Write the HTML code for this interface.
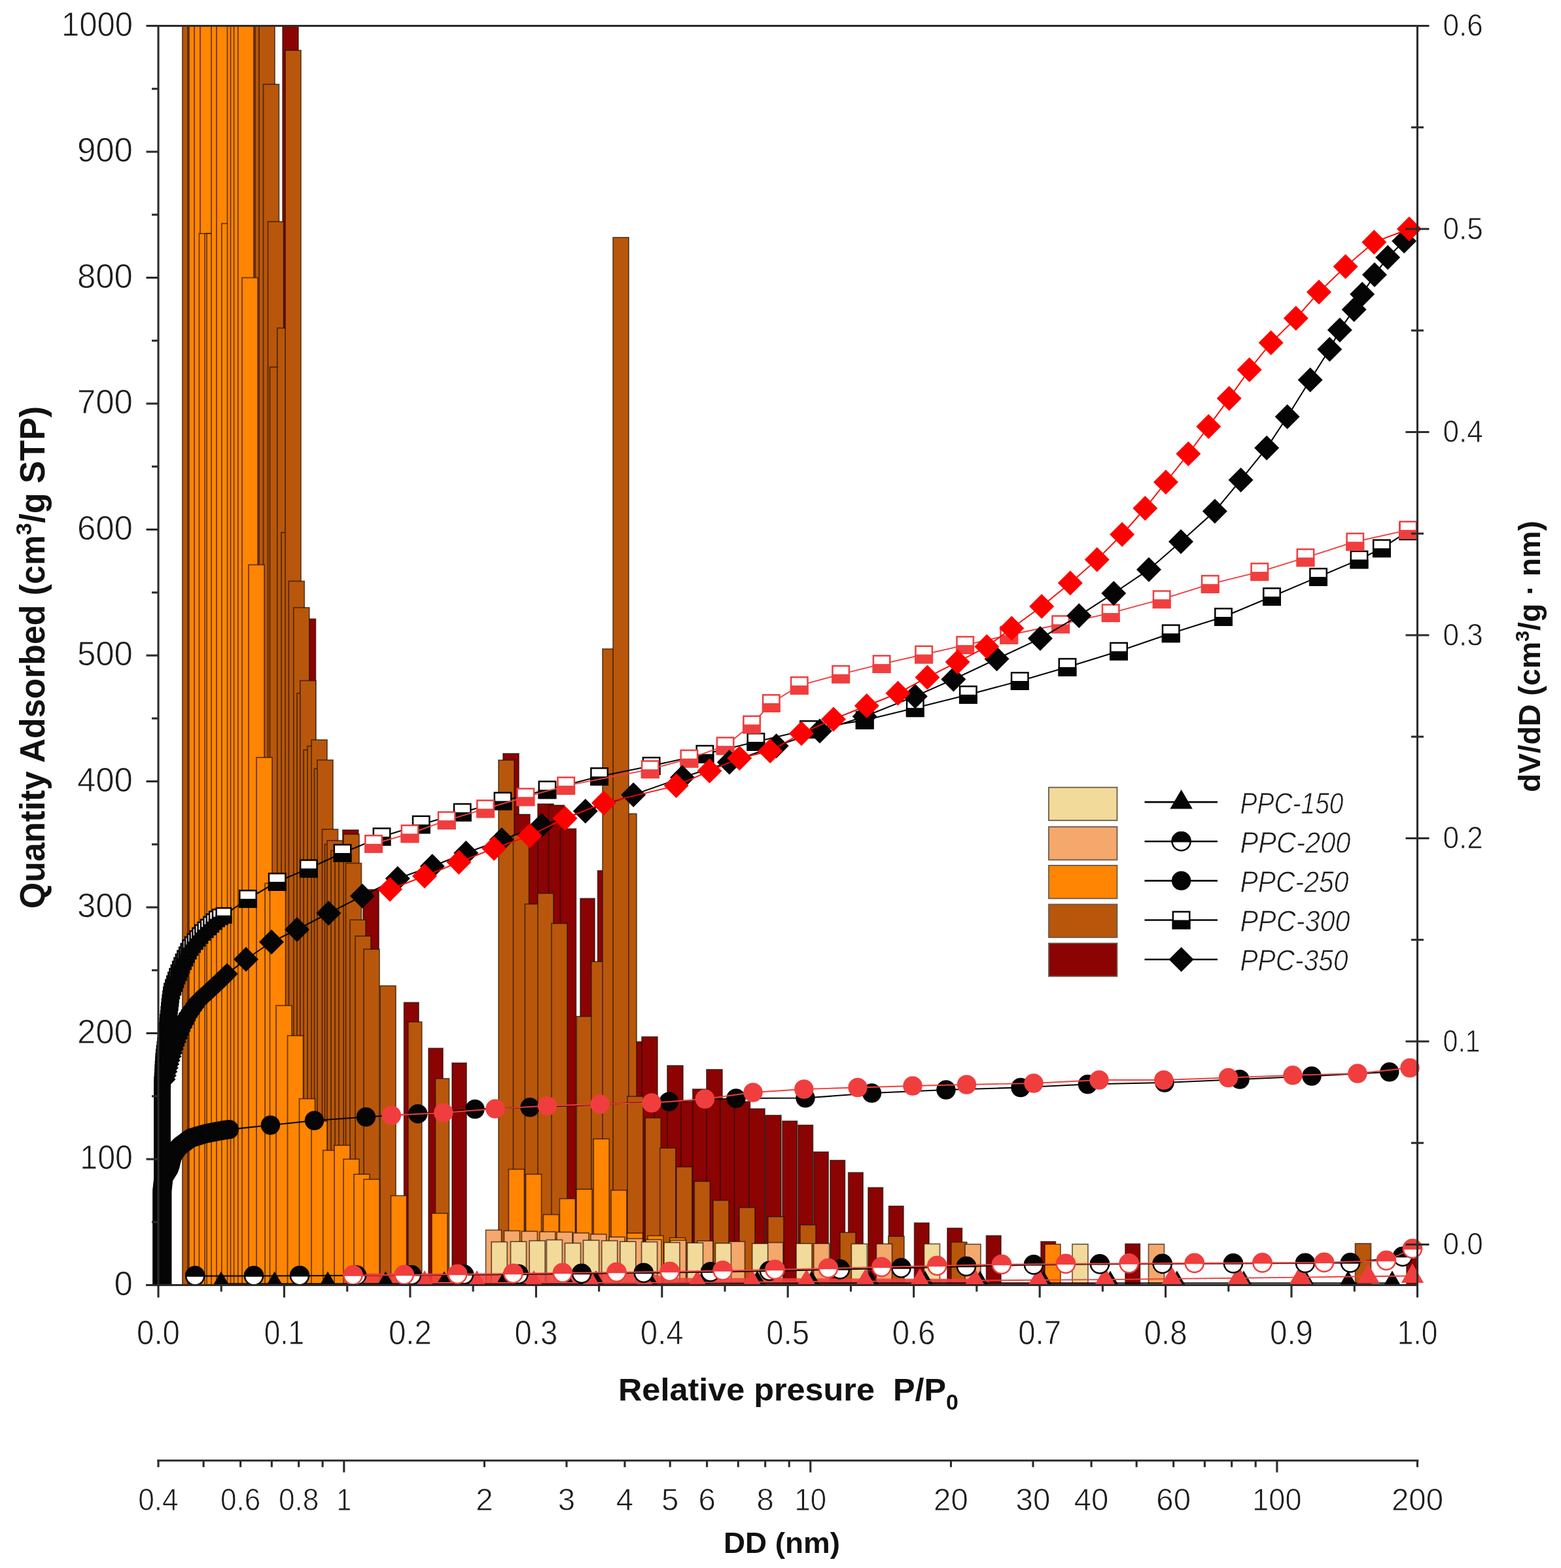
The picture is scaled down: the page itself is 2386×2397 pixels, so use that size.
<!DOCTYPE html>
<html lang="en"><head><meta charset="utf-8"><title>N2 sorption isotherms and pore size distribution</title><style>html,body{margin:0;padding:0;background:#fff}body{width:2386px;height:2397px;overflow:hidden}svg{display:block;filter:blur(0.55px)}</style></head><body>
<svg width="2386" height="2397" viewBox="0 0 2386 2397" style="display:block">
<rect width="2386" height="2397" fill="#fff"/>
<clipPath id="pc"><rect x="242.0" y="39.5" width="1924.5" height="1927.0"/></clipPath>
<g clip-path="url(#pc)">
<g fill="#8B0303" stroke="#1f0e00" stroke-width="1.7" stroke-opacity="0.66">
<rect x="432.0" y="39.5" width="24.0" height="1925.0"/>
<rect x="458.5" y="946.2" width="24.0" height="1018.3"/>
<rect x="523.8" y="1268.8" width="24.0" height="695.7"/>
<rect x="555.0" y="1360.0" width="24.0" height="604.5"/>
<rect x="617.5" y="1532.5" width="22.5" height="432.0"/>
<rect x="655.0" y="1602.5" width="22.0" height="362.0"/>
<rect x="691.0" y="1625.0" width="22.0" height="339.5"/>
<rect x="769.0" y="1152.0" width="24.0" height="812.5"/>
<rect x="786.0" y="1245.0" width="24.0" height="719.5"/>
<rect x="803.0" y="1278.0" width="24.0" height="686.5"/>
<rect x="822.0" y="1229.0" width="24.0" height="735.5"/>
<rect x="838.5" y="1231.0" width="24.0" height="733.5"/>
<rect x="856.5" y="1267.0" width="24.0" height="697.5"/>
<rect x="887.0" y="1373.5" width="22.0" height="591.0"/>
<rect x="913.5" y="1331.0" width="24.0" height="633.5"/>
<rect x="958.5" y="1592.5" width="24.0" height="372.0"/>
<rect x="981.0" y="1585.0" width="24.0" height="379.5"/>
<rect x="1000.0" y="1690.0" width="24.0" height="274.5"/>
<rect x="1020.0" y="1629.0" width="24.0" height="335.5"/>
<rect x="1041.0" y="1684.0" width="24.0" height="280.5"/>
<rect x="1058.8" y="1665.0" width="24.0" height="299.5"/>
<rect x="1080.0" y="1635.0" width="24.0" height="329.5"/>
<rect x="1101.0" y="1680.0" width="24.0" height="284.5"/>
<rect x="1122.5" y="1684.0" width="24.0" height="280.5"/>
<rect x="1145.0" y="1695.0" width="24.0" height="269.5"/>
<rect x="1170.0" y="1705.0" width="24.0" height="259.5"/>
<rect x="1196.0" y="1713.8" width="22.5" height="250.7"/>
<rect x="1220.0" y="1720.0" width="22.5" height="244.5"/>
<rect x="1243.7" y="1761.0" width="22.5" height="203.5"/>
<rect x="1269.0" y="1773.8" width="22.5" height="190.7"/>
<rect x="1296.7" y="1792.5" width="22.5" height="172.0"/>
<rect x="1327.0" y="1815.5" width="22.5" height="149.0"/>
<rect x="1358.5" y="1843.8" width="22.5" height="120.7"/>
<rect x="1397.6" y="1869.5" width="22.5" height="95.0"/>
<rect x="1448.0" y="1877.5" width="22.5" height="87.0"/>
<rect x="1507.5" y="1889.0" width="22.5" height="75.5"/>
<rect x="1591.0" y="1898.0" width="22.5" height="66.5"/>
<rect x="1720.0" y="1901.5" width="22.5" height="63.0"/>
<rect x="2150.0" y="1900.0" width="22.5" height="64.5"/>
</g>
<g fill="#B8570B" stroke="#1f0e00" stroke-width="1.7" stroke-opacity="0.66">
<rect x="278.8" y="39.5" width="24.0" height="1925.0"/>
<rect x="287.0" y="39.5" width="24.0" height="1925.0"/>
<rect x="296.0" y="39.5" width="24.0" height="1925.0"/>
<rect x="305.0" y="39.5" width="24.0" height="1925.0"/>
<rect x="314.0" y="39.5" width="24.0" height="1925.0"/>
<rect x="323.0" y="39.5" width="24.0" height="1925.0"/>
<rect x="332.0" y="39.5" width="24.0" height="1925.0"/>
<rect x="341.0" y="39.5" width="24.0" height="1925.0"/>
<rect x="350.0" y="39.5" width="24.0" height="1925.0"/>
<rect x="359.0" y="39.5" width="24.0" height="1925.0"/>
<rect x="368.0" y="39.5" width="24.0" height="1925.0"/>
<rect x="377.0" y="39.5" width="24.0" height="1925.0"/>
<rect x="384.0" y="39.5" width="24.0" height="1925.0"/>
<rect x="390.0" y="39.5" width="24.0" height="1925.0"/>
<rect x="396.0" y="39.5" width="24.0" height="1925.0"/>
<rect x="402.5" y="128.8" width="24.0" height="1835.7"/>
<rect x="409.5" y="338.8" width="24.0" height="1625.7"/>
<rect x="412.5" y="561.2" width="24.0" height="1403.3"/>
<rect x="423.8" y="501.5" width="24.0" height="1463.0"/>
<rect x="430.0" y="814.1" width="24.0" height="1150.4"/>
<rect x="436.0" y="77.0" width="24.0" height="1887.5"/>
<rect x="441.3" y="888.4" width="24.0" height="1076.1"/>
<rect x="448.8" y="928.8" width="24.0" height="1035.7"/>
<rect x="454.0" y="1059.8" width="24.0" height="904.8"/>
<rect x="458.8" y="1040.5" width="24.0" height="924.0"/>
<rect x="464.0" y="1146.4" width="24.0" height="818.1"/>
<rect x="470.0" y="1140.6" width="24.0" height="823.9"/>
<rect x="476.0" y="1131.0" width="24.0" height="833.5"/>
<rect x="480.5" y="1175.2" width="24.0" height="789.2"/>
<rect x="485.0" y="1161.8" width="24.0" height="802.7"/>
<rect x="492.5" y="1267.7" width="24.0" height="696.8"/>
<rect x="496.5" y="1290.8" width="24.0" height="673.8"/>
<rect x="500.0" y="1285.0" width="24.0" height="679.5"/>
<rect x="506.0" y="1300.4" width="24.0" height="664.1"/>
<rect x="512.0" y="1296.5" width="24.0" height="668.0"/>
<rect x="518.0" y="1290.8" width="24.0" height="673.8"/>
<rect x="525.0" y="1275.3" width="24.0" height="689.2"/>
<rect x="528.5" y="1319.6" width="24.0" height="644.9"/>
<rect x="535.0" y="1406.2" width="24.0" height="558.2"/>
<rect x="543.0" y="1431.0" width="24.0" height="533.5"/>
<rect x="556.0" y="1451.0" width="24.0" height="513.5"/>
<rect x="581.0" y="1507.0" width="24.0" height="457.5"/>
<rect x="623.8" y="1562.2" width="21.0" height="402.3"/>
<rect x="665.5" y="1648.8" width="21.0" height="315.7"/>
<rect x="762.0" y="1162.0" width="24.0" height="802.5"/>
<rect x="784.5" y="1276.0" width="24.0" height="688.5"/>
<rect x="802.4" y="1382.0" width="24.0" height="582.5"/>
<rect x="822.0" y="1365.7" width="24.0" height="598.8"/>
<rect x="843.0" y="1411.7" width="24.0" height="552.8"/>
<rect x="881.3" y="1553.8" width="24.0" height="410.7"/>
<rect x="903.8" y="1470.0" width="24.0" height="494.5"/>
<rect x="949.0" y="1244.0" width="24.0" height="720.5"/>
<rect x="921.0" y="992.0" width="24.0" height="972.5"/>
<rect x="937.0" y="363.0" width="24.0" height="1601.5"/>
<rect x="959.0" y="1676.0" width="24.0" height="288.5"/>
<rect x="986.3" y="1708.8" width="24.0" height="255.7"/>
<rect x="1008.8" y="1755.0" width="24.0" height="209.5"/>
<rect x="1033.8" y="1783.8" width="24.0" height="180.7"/>
<rect x="1061.3" y="1806.0" width="24.0" height="158.5"/>
<rect x="1090.0" y="1835.0" width="24.0" height="129.5"/>
<rect x="1130.0" y="1846.0" width="24.0" height="118.5"/>
<rect x="1173.8" y="1860.0" width="24.0" height="104.5"/>
<rect x="1223.0" y="1872.5" width="24.0" height="92.0"/>
<rect x="1284.0" y="1884.0" width="24.0" height="80.5"/>
<rect x="1358.0" y="1890.0" width="24.0" height="74.5"/>
<rect x="1453.8" y="1898.8" width="24.0" height="65.7"/>
<rect x="2071.5" y="1901.0" width="24.0" height="63.5"/>
</g>
<g fill="#FF8503" stroke="#1f0e00" stroke-width="1.7" stroke-opacity="0.66">
<rect x="289.0" y="39.5" width="24.0" height="1925.0"/>
<rect x="297.0" y="39.5" width="24.0" height="1925.0"/>
<rect x="306.0" y="39.5" width="24.0" height="1925.0"/>
<rect x="304.5" y="357.1" width="24.0" height="1607.4"/>
<rect x="313.0" y="357.1" width="24.0" height="1607.4"/>
<rect x="316.0" y="357.1" width="24.0" height="1607.4"/>
<rect x="323.0" y="39.5" width="24.0" height="1925.0"/>
<rect x="331.0" y="39.5" width="24.0" height="1925.0"/>
<rect x="338.8" y="341.7" width="24.0" height="1622.8"/>
<rect x="347.5" y="39.5" width="24.0" height="1925.0"/>
<rect x="352.5" y="39.5" width="24.0" height="1925.0"/>
<rect x="357.5" y="39.5" width="24.0" height="1925.0"/>
<rect x="363.8" y="39.5" width="24.0" height="1925.0"/>
<rect x="370.0" y="424.5" width="24.0" height="1540.0"/>
<rect x="380.0" y="863.4" width="24.0" height="1101.1"/>
<rect x="392.0" y="1157.9" width="24.0" height="806.6"/>
<rect x="405.0" y="1350.4" width="24.0" height="614.1"/>
<rect x="412.5" y="1350.4" width="24.0" height="614.1"/>
<rect x="422.0" y="1537.2" width="24.0" height="427.3"/>
<rect x="439.5" y="1583.3" width="24.0" height="381.2"/>
<rect x="457.5" y="1679.6" width="24.0" height="284.9"/>
<rect x="476.0" y="1714.0" width="24.0" height="250.5"/>
<rect x="493.8" y="1758.5" width="24.0" height="206.0"/>
<rect x="511.0" y="1750.8" width="24.0" height="213.7"/>
<rect x="525.0" y="1772.0" width="24.0" height="192.5"/>
<rect x="541.0" y="1795.1" width="24.0" height="169.4"/>
<rect x="556.0" y="1802.8" width="24.0" height="161.7"/>
<rect x="597.5" y="1827.8" width="24.0" height="136.7"/>
<rect x="660.0" y="1854.8" width="24.0" height="109.7"/>
<rect x="777.4" y="1787.5" width="24.0" height="177.0"/>
<rect x="803.6" y="1795.0" width="24.0" height="169.5"/>
<rect x="830.4" y="1856.7" width="24.0" height="107.8"/>
<rect x="855.4" y="1832.4" width="24.0" height="132.1"/>
<rect x="881.0" y="1818.0" width="24.0" height="146.5"/>
<rect x="907.2" y="1741.0" width="24.0" height="223.5"/>
<rect x="934.0" y="1819.5" width="24.0" height="145.0"/>
<rect x="958.5" y="1885.0" width="24.0" height="79.5"/>
<rect x="990.0" y="1889.0" width="24.0" height="75.5"/>
<rect x="1023.6" y="1892.3" width="24.0" height="72.2"/>
<rect x="1597.0" y="1902.0" width="24.0" height="62.5"/>
</g>
<g fill="#F4A86C" stroke="#1f0e00" stroke-width="1.7" stroke-opacity="0.66">
<rect x="742.5" y="1880.4" width="24.0" height="84.1"/>
<rect x="770.5" y="1881.5" width="24.0" height="83.0"/>
<rect x="797.4" y="1882.3" width="24.0" height="82.2"/>
<rect x="824.8" y="1883.0" width="24.0" height="81.5"/>
<rect x="851.0" y="1883.5" width="24.0" height="81.0"/>
<rect x="876.0" y="1884.8" width="24.0" height="79.7"/>
<rect x="902.8" y="1886.7" width="24.0" height="77.8"/>
<rect x="931.0" y="1891.0" width="24.0" height="73.5"/>
<rect x="958.5" y="1893.5" width="24.0" height="71.0"/>
<rect x="987.0" y="1895.0" width="24.0" height="69.5"/>
<rect x="1024.6" y="1896.0" width="24.0" height="68.5"/>
<rect x="1065.8" y="1897.0" width="24.0" height="67.5"/>
<rect x="1114.5" y="1898.0" width="24.0" height="66.5"/>
<rect x="1173.0" y="1899.5" width="24.0" height="65.0"/>
<rect x="1243.7" y="1901.0" width="24.0" height="63.5"/>
<rect x="1339.5" y="1901.5" width="24.0" height="63.0"/>
<rect x="1475.0" y="1902.0" width="24.0" height="62.5"/>
<rect x="1755.5" y="1902.0" width="24.0" height="62.5"/>
</g>
<g fill="#F2DA9A" stroke="#1f0e00" stroke-width="1.7" stroke-opacity="0.66">
<rect x="751.2" y="1898.5" width="24.0" height="66.0"/>
<rect x="780.5" y="1898.0" width="24.0" height="66.5"/>
<rect x="809.2" y="1896.7" width="24.0" height="67.8"/>
<rect x="835.4" y="1895.4" width="24.0" height="69.1"/>
<rect x="863.5" y="1900.4" width="24.0" height="64.1"/>
<rect x="891.6" y="1896.0" width="24.0" height="68.5"/>
<rect x="919.7" y="1896.7" width="24.0" height="67.8"/>
<rect x="947.8" y="1898.0" width="24.0" height="66.5"/>
<rect x="980.6" y="1898.5" width="24.0" height="66.0"/>
<rect x="1015.0" y="1899.5" width="24.0" height="65.0"/>
<rect x="1050.5" y="1900.0" width="24.0" height="64.5"/>
<rect x="1093.5" y="1900.5" width="24.0" height="64.0"/>
<rect x="1149.7" y="1901.0" width="24.0" height="63.5"/>
<rect x="1217.0" y="1901.0" width="24.0" height="63.5"/>
<rect x="1301.4" y="1901.5" width="24.0" height="63.0"/>
<rect x="1412.5" y="1901.5" width="24.0" height="63.0"/>
<rect x="1639.0" y="1902.0" width="24.0" height="62.5"/>
</g>
</g>
<clipPath id="cc"><rect x="0" y="0" width="2386" height="1965.0"/></clipPath>
<g clip-path="url(#cc)">
<path d="M526 1965V1950L534 1946.5L1000 1947.5L1015 1953.5L1500 1955L1515 1960.5L1700 1961V1965Z" fill="#F03E3E" fill-opacity="0.88"/>
<path d="M338.0 1962.5L419.7 1962.5L501.0 1962.5L589.4 1962.5L679.0 1962.5L770.0 1962.5L866.0 1962.5L911.0 1961.5L993.0 1961.5L1074.0 1961.5L1157.5 1961.5L1240.7 1961.5L1330.6 1961.5L1414.0 1961.5L1498.0 1961.5L1595.0 1961.5L1697.0 1961.5L1799.0 1961.5L1901.0 1961.5L1996.0 1961.5L2060.6 1961.5L2128.0 1961.5" fill="none" stroke="#050505" stroke-width="2.1" stroke-linejoin="round"/>
<path d="M320.8 1973.0L338.0 1943.5L355.2 1973.0Z" fill="#050505"/>
<path d="M402.5 1973.0L419.7 1943.5L436.9 1973.0Z" fill="#050505"/>
<path d="M483.8 1973.0L501.0 1943.5L518.2 1973.0Z" fill="#050505"/>
<path d="M572.2 1973.0L589.4 1943.5L606.6 1973.0Z" fill="#050505"/>
<path d="M661.8 1973.0L679.0 1943.5L696.2 1973.0Z" fill="#050505"/>
<path d="M752.8 1973.0L770.0 1943.5L787.2 1973.0Z" fill="#050505"/>
<path d="M848.8 1973.0L866.0 1943.5L883.2 1973.0Z" fill="#050505"/>
<path d="M893.8 1972.0L911.0 1942.5L928.2 1972.0Z" fill="#050505"/>
<path d="M975.8 1972.0L993.0 1942.5L1010.2 1972.0Z" fill="#050505"/>
<path d="M1056.8 1972.0L1074.0 1942.5L1091.2 1972.0Z" fill="#050505"/>
<path d="M1140.3 1972.0L1157.5 1942.5L1174.7 1972.0Z" fill="#050505"/>
<path d="M1223.5 1972.0L1240.7 1942.5L1257.9 1972.0Z" fill="#050505"/>
<path d="M1313.4 1972.0L1330.6 1942.5L1347.8 1972.0Z" fill="#050505"/>
<path d="M1396.8 1972.0L1414.0 1942.5L1431.2 1972.0Z" fill="#050505"/>
<path d="M1480.8 1972.0L1498.0 1942.5L1515.2 1972.0Z" fill="#050505"/>
<path d="M1577.8 1972.0L1595.0 1942.5L1612.2 1972.0Z" fill="#050505"/>
<path d="M1679.8 1972.0L1697.0 1942.5L1714.2 1972.0Z" fill="#050505"/>
<path d="M1781.8 1972.0L1799.0 1942.5L1816.2 1972.0Z" fill="#050505"/>
<path d="M1883.8 1972.0L1901.0 1942.5L1918.2 1972.0Z" fill="#050505"/>
<path d="M1978.8 1972.0L1996.0 1942.5L2013.2 1972.0Z" fill="#050505"/>
<path d="M2043.4 1972.0L2060.6 1942.5L2077.8 1972.0Z" fill="#050505"/>
<path d="M2110.8 1972.0L2128.0 1942.5L2145.2 1972.0Z" fill="#050505"/>
<path d="M2159.0 1950.5L2091.5 1951.3L1988.0 1952.6L1893.0 1953.7L1791.0 1954.9L1689.0 1956.1L1587.0 1956.8L1490.0 1957.5L1406.0 1958.1L1322.6 1958.7L1232.7 1959.3L1149.5 1959.9L1066.0 1960.5L985.0 1961.0L903.0 1961.0L816.0 1961.0L729.0 1961.0L649.0 1961.0" fill="none" stroke="#F03E3E" stroke-width="1.9" stroke-linejoin="round"/>
<path d="M2141.8 1961.0L2159.0 1931.5L2176.2 1961.0Z" fill="#F03E3E"/>
<path d="M2074.3 1961.8L2091.5 1932.3L2108.7 1961.8Z" fill="#F03E3E"/>
<path d="M1970.8 1963.1L1988.0 1933.6L2005.2 1963.1Z" fill="#F03E3E"/>
<path d="M1875.8 1964.2L1893.0 1934.7L1910.2 1964.2Z" fill="#F03E3E"/>
<path d="M1773.8 1965.4L1791.0 1935.9L1808.2 1965.4Z" fill="#F03E3E"/>
<path d="M1671.8 1966.6L1689.0 1937.1L1706.2 1966.6Z" fill="#F03E3E"/>
<path d="M1569.8 1967.3L1587.0 1937.8L1604.2 1967.3Z" fill="#F03E3E"/>
<path d="M1472.8 1968.0L1490.0 1938.5L1507.2 1968.0Z" fill="#F03E3E"/>
<path d="M1388.8 1968.6L1406.0 1939.1L1423.2 1968.6Z" fill="#F03E3E"/>
<path d="M1305.4 1969.2L1322.6 1939.7L1339.8 1969.2Z" fill="#F03E3E"/>
<path d="M1215.5 1969.8L1232.7 1940.3L1249.9 1969.8Z" fill="#F03E3E"/>
<path d="M1132.3 1970.4L1149.5 1940.9L1166.7 1970.4Z" fill="#F03E3E"/>
<path d="M1048.8 1971.0L1066.0 1941.5L1083.2 1971.0Z" fill="#F03E3E"/>
<path d="M967.8 1971.5L985.0 1942.0L1002.2 1971.5Z" fill="#F03E3E"/>
<path d="M885.8 1971.5L903.0 1942.0L920.2 1971.5Z" fill="#F03E3E"/>
<path d="M798.8 1971.5L816.0 1942.0L833.2 1971.5Z" fill="#F03E3E"/>
<path d="M711.8 1971.5L729.0 1942.0L746.2 1971.5Z" fill="#F03E3E"/>
<path d="M631.8 1971.5L649.0 1942.0L666.2 1971.5Z" fill="#F03E3E"/>
<path d="M298.2 1950.6L388.0 1950.5L458.0 1950.2L545.0 1949.8L629.0 1949.3L709.0 1948.6L792.5 1948.0L889.0 1947.0L983.8 1946.0L1086.0 1944.5L1176.0 1943.0L1284.0 1940.5L1377.5 1938.5L1477.0 1936.0L1580.0 1933.5L1681.0 1932.5L1776.7 1932.0L1885.0 1931.5L1995.0 1931.0L2064.0 1930.5L2144.0 1921.0" fill="none" stroke="#050505" stroke-width="2.1" stroke-linejoin="round"/>
<circle cx="298.2" cy="1950.6" r="14" fill="#fff" stroke="#050505" stroke-width="2.5"/><path d="M284.2 1950.6A14 14 0 0 1 312.2 1950.6Z" fill="#050505" stroke="#050505" stroke-width="2.5"/>
<circle cx="388.0" cy="1950.5" r="14" fill="#fff" stroke="#050505" stroke-width="2.5"/><path d="M374.0 1950.5A14 14 0 0 1 402.0 1950.5Z" fill="#050505" stroke="#050505" stroke-width="2.5"/>
<circle cx="458.0" cy="1950.2" r="14" fill="#fff" stroke="#050505" stroke-width="2.5"/><path d="M444.0 1950.2A14 14 0 0 1 472.0 1950.2Z" fill="#050505" stroke="#050505" stroke-width="2.5"/>
<circle cx="545.0" cy="1949.8" r="14" fill="#fff" stroke="#050505" stroke-width="2.5"/><path d="M531.0 1949.8A14 14 0 0 1 559.0 1949.8Z" fill="#050505" stroke="#050505" stroke-width="2.5"/>
<circle cx="629.0" cy="1949.3" r="14" fill="#fff" stroke="#050505" stroke-width="2.5"/><path d="M615.0 1949.3A14 14 0 0 1 643.0 1949.3Z" fill="#050505" stroke="#050505" stroke-width="2.5"/>
<circle cx="709.0" cy="1948.6" r="14" fill="#fff" stroke="#050505" stroke-width="2.5"/><path d="M695.0 1948.6A14 14 0 0 1 723.0 1948.6Z" fill="#050505" stroke="#050505" stroke-width="2.5"/>
<circle cx="792.5" cy="1948.0" r="14" fill="#fff" stroke="#050505" stroke-width="2.5"/><path d="M778.5 1948.0A14 14 0 0 1 806.5 1948.0Z" fill="#050505" stroke="#050505" stroke-width="2.5"/>
<circle cx="889.0" cy="1947.0" r="14" fill="#fff" stroke="#050505" stroke-width="2.5"/><path d="M875.0 1947.0A14 14 0 0 1 903.0 1947.0Z" fill="#050505" stroke="#050505" stroke-width="2.5"/>
<circle cx="983.8" cy="1946.0" r="14" fill="#fff" stroke="#050505" stroke-width="2.5"/><path d="M969.8 1946.0A14 14 0 0 1 997.8 1946.0Z" fill="#050505" stroke="#050505" stroke-width="2.5"/>
<circle cx="1086.0" cy="1944.5" r="14" fill="#fff" stroke="#050505" stroke-width="2.5"/><path d="M1072.0 1944.5A14 14 0 0 1 1100.0 1944.5Z" fill="#050505" stroke="#050505" stroke-width="2.5"/>
<circle cx="1176.0" cy="1943.0" r="14" fill="#fff" stroke="#050505" stroke-width="2.5"/><path d="M1162.0 1943.0A14 14 0 0 1 1190.0 1943.0Z" fill="#050505" stroke="#050505" stroke-width="2.5"/>
<circle cx="1284.0" cy="1940.5" r="14" fill="#fff" stroke="#050505" stroke-width="2.5"/><path d="M1270.0 1940.5A14 14 0 0 1 1298.0 1940.5Z" fill="#050505" stroke="#050505" stroke-width="2.5"/>
<circle cx="1377.5" cy="1938.5" r="14" fill="#fff" stroke="#050505" stroke-width="2.5"/><path d="M1363.5 1938.5A14 14 0 0 1 1391.5 1938.5Z" fill="#050505" stroke="#050505" stroke-width="2.5"/>
<circle cx="1477.0" cy="1936.0" r="14" fill="#fff" stroke="#050505" stroke-width="2.5"/><path d="M1463.0 1936.0A14 14 0 0 1 1491.0 1936.0Z" fill="#050505" stroke="#050505" stroke-width="2.5"/>
<circle cx="1580.0" cy="1933.5" r="14" fill="#fff" stroke="#050505" stroke-width="2.5"/><path d="M1566.0 1933.5A14 14 0 0 1 1594.0 1933.5Z" fill="#050505" stroke="#050505" stroke-width="2.5"/>
<circle cx="1681.0" cy="1932.5" r="14" fill="#fff" stroke="#050505" stroke-width="2.5"/><path d="M1667.0 1932.5A14 14 0 0 1 1695.0 1932.5Z" fill="#050505" stroke="#050505" stroke-width="2.5"/>
<circle cx="1776.7" cy="1932.0" r="14" fill="#fff" stroke="#050505" stroke-width="2.5"/><path d="M1762.7 1932.0A14 14 0 0 1 1790.7 1932.0Z" fill="#050505" stroke="#050505" stroke-width="2.5"/>
<circle cx="1885.0" cy="1931.5" r="14" fill="#fff" stroke="#050505" stroke-width="2.5"/><path d="M1871.0 1931.5A14 14 0 0 1 1899.0 1931.5Z" fill="#050505" stroke="#050505" stroke-width="2.5"/>
<circle cx="1995.0" cy="1931.0" r="14" fill="#fff" stroke="#050505" stroke-width="2.5"/><path d="M1981.0 1931.0A14 14 0 0 1 2009.0 1931.0Z" fill="#050505" stroke="#050505" stroke-width="2.5"/>
<circle cx="2064.0" cy="1930.5" r="14" fill="#fff" stroke="#050505" stroke-width="2.5"/><path d="M2050.0 1930.5A14 14 0 0 1 2078.0 1930.5Z" fill="#050505" stroke="#050505" stroke-width="2.5"/>
<circle cx="2144.0" cy="1921.0" r="14" fill="#fff" stroke="#050505" stroke-width="2.5"/><path d="M2130.0 1921.0A14 14 0 0 1 2158.0 1921.0Z" fill="#050505" stroke="#050505" stroke-width="2.5"/>
<path d="M2159.0 1909.0L2119.0 1927.0L2024.0 1930.0L1929.5 1930.5L1825.8 1931.0L1725.7 1931.5L1629.0 1932.0L1531.0 1933.0L1432.4 1935.0L1347.6 1937.0L1266.0 1939.0L1184.5 1941.0L1104.6 1942.5L1023.7 1944.0L942.5 1945.0L860.0 1946.0L784.5 1947.0L699.3 1948.0L617.7 1949.0L539.5 1949.5" fill="none" stroke="#F03E3E" stroke-width="1.9" stroke-linejoin="round"/>
<circle cx="2159.0" cy="1909.0" r="14" fill="#fff" stroke="#F03E3E" stroke-width="2.5"/><path d="M2145.0 1909.0A14 14 0 0 1 2173.0 1909.0Z" fill="#F03E3E" stroke="#F03E3E" stroke-width="2.5"/>
<circle cx="2119.0" cy="1927.0" r="14" fill="#fff" stroke="#F03E3E" stroke-width="2.5"/><path d="M2105.0 1927.0A14 14 0 0 1 2133.0 1927.0Z" fill="#F03E3E" stroke="#F03E3E" stroke-width="2.5"/>
<circle cx="2024.0" cy="1930.0" r="14" fill="#fff" stroke="#F03E3E" stroke-width="2.5"/><path d="M2010.0 1930.0A14 14 0 0 1 2038.0 1930.0Z" fill="#F03E3E" stroke="#F03E3E" stroke-width="2.5"/>
<circle cx="1929.5" cy="1930.5" r="14" fill="#fff" stroke="#F03E3E" stroke-width="2.5"/><path d="M1915.5 1930.5A14 14 0 0 1 1943.5 1930.5Z" fill="#F03E3E" stroke="#F03E3E" stroke-width="2.5"/>
<circle cx="1825.8" cy="1931.0" r="14" fill="#fff" stroke="#F03E3E" stroke-width="2.5"/><path d="M1811.8 1931.0A14 14 0 0 1 1839.8 1931.0Z" fill="#F03E3E" stroke="#F03E3E" stroke-width="2.5"/>
<circle cx="1725.7" cy="1931.5" r="14" fill="#fff" stroke="#F03E3E" stroke-width="2.5"/><path d="M1711.7 1931.5A14 14 0 0 1 1739.7 1931.5Z" fill="#F03E3E" stroke="#F03E3E" stroke-width="2.5"/>
<circle cx="1629.0" cy="1932.0" r="14" fill="#fff" stroke="#F03E3E" stroke-width="2.5"/><path d="M1615.0 1932.0A14 14 0 0 1 1643.0 1932.0Z" fill="#F03E3E" stroke="#F03E3E" stroke-width="2.5"/>
<circle cx="1531.0" cy="1933.0" r="14" fill="#fff" stroke="#F03E3E" stroke-width="2.5"/><path d="M1517.0 1933.0A14 14 0 0 1 1545.0 1933.0Z" fill="#F03E3E" stroke="#F03E3E" stroke-width="2.5"/>
<circle cx="1432.4" cy="1935.0" r="14" fill="#fff" stroke="#F03E3E" stroke-width="2.5"/><path d="M1418.4 1935.0A14 14 0 0 1 1446.4 1935.0Z" fill="#F03E3E" stroke="#F03E3E" stroke-width="2.5"/>
<circle cx="1347.6" cy="1937.0" r="14" fill="#fff" stroke="#F03E3E" stroke-width="2.5"/><path d="M1333.6 1937.0A14 14 0 0 1 1361.6 1937.0Z" fill="#F03E3E" stroke="#F03E3E" stroke-width="2.5"/>
<circle cx="1266.0" cy="1939.0" r="14" fill="#fff" stroke="#F03E3E" stroke-width="2.5"/><path d="M1252.0 1939.0A14 14 0 0 1 1280.0 1939.0Z" fill="#F03E3E" stroke="#F03E3E" stroke-width="2.5"/>
<circle cx="1184.5" cy="1941.0" r="14" fill="#fff" stroke="#F03E3E" stroke-width="2.5"/><path d="M1170.5 1941.0A14 14 0 0 1 1198.5 1941.0Z" fill="#F03E3E" stroke="#F03E3E" stroke-width="2.5"/>
<circle cx="1104.6" cy="1942.5" r="14" fill="#fff" stroke="#F03E3E" stroke-width="2.5"/><path d="M1090.6 1942.5A14 14 0 0 1 1118.6 1942.5Z" fill="#F03E3E" stroke="#F03E3E" stroke-width="2.5"/>
<circle cx="1023.7" cy="1944.0" r="14" fill="#fff" stroke="#F03E3E" stroke-width="2.5"/><path d="M1009.7 1944.0A14 14 0 0 1 1037.7 1944.0Z" fill="#F03E3E" stroke="#F03E3E" stroke-width="2.5"/>
<circle cx="942.5" cy="1945.0" r="14" fill="#fff" stroke="#F03E3E" stroke-width="2.5"/><path d="M928.5 1945.0A14 14 0 0 1 956.5 1945.0Z" fill="#F03E3E" stroke="#F03E3E" stroke-width="2.5"/>
<circle cx="860.0" cy="1946.0" r="14" fill="#fff" stroke="#F03E3E" stroke-width="2.5"/><path d="M846.0 1946.0A14 14 0 0 1 874.0 1946.0Z" fill="#F03E3E" stroke="#F03E3E" stroke-width="2.5"/>
<circle cx="784.5" cy="1947.0" r="14" fill="#fff" stroke="#F03E3E" stroke-width="2.5"/><path d="M770.5 1947.0A14 14 0 0 1 798.5 1947.0Z" fill="#F03E3E" stroke="#F03E3E" stroke-width="2.5"/>
<circle cx="699.3" cy="1948.0" r="14" fill="#fff" stroke="#F03E3E" stroke-width="2.5"/><path d="M685.3 1948.0A14 14 0 0 1 713.3 1948.0Z" fill="#F03E3E" stroke="#F03E3E" stroke-width="2.5"/>
<circle cx="617.7" cy="1949.0" r="14" fill="#fff" stroke="#F03E3E" stroke-width="2.5"/><path d="M603.7 1949.0A14 14 0 0 1 631.7 1949.0Z" fill="#F03E3E" stroke="#F03E3E" stroke-width="2.5"/>
<circle cx="539.5" cy="1949.5" r="14" fill="#fff" stroke="#F03E3E" stroke-width="2.5"/><path d="M525.5 1949.5A14 14 0 0 1 553.5 1949.5Z" fill="#F03E3E" stroke="#F03E3E" stroke-width="2.5"/>
<path d="M247.8 1964.0L247.8 1959.0L247.8 1954.0L247.8 1949.0L247.8 1944.0L247.8 1939.0L247.8 1934.0L247.8 1929.0L247.8 1924.0L247.8 1919.0L247.8 1914.0L247.8 1909.0L247.8 1904.0L247.8 1899.0L247.8 1894.0L247.8 1889.0L247.8 1884.0L247.8 1879.0L247.8 1874.0L247.8 1869.0L247.8 1864.0L247.8 1859.0L247.8 1854.0L247.8 1849.0L247.8 1844.0L247.8 1839.0L247.8 1834.0L247.8 1829.0L247.8 1824.0L247.9 1819.0L248.5 1814.0L249.0 1809.1L249.5 1804.1L250.5 1799.3L253.1 1795.0L255.7 1790.8L258.4 1786.5L260.0 1781.8L261.2 1777.0L262.5 1772.1L263.7 1767.3L266.5 1763.1L269.3 1759.0L272.1 1754.9L275.7 1751.5L279.7 1748.5L283.7 1745.5L287.7 1742.5L291.8 1739.7L296.6 1738.3L301.4 1736.8L306.2 1735.4L311.0 1733.9L315.8 1732.7L320.7 1731.7L325.6 1730.8L330.5 1729.8L335.5 1728.9L340.4 1728.0L345.3 1727.3L350.3 1726.6L413.4 1720.0L480.5 1713.0L559.4 1707.5L638.8 1702.7L726.0 1695.5L810.0 1692.8L1022.5 1684.0L1125.0 1679.0L1231.0 1678.5L1332.5 1671.0L1446.0 1666.0L1560.0 1662.5L1662.5 1657.5L1780.0 1655.0L1895.0 1650.0L2005.0 1645.0L2123.8 1638.8" fill="none" stroke="#050505" stroke-width="2.1" stroke-linejoin="round"/>
<circle cx="247.8" cy="1964.0" r="14.7" fill="#050505"/>
<circle cx="247.8" cy="1959.0" r="14.7" fill="#050505"/>
<circle cx="247.8" cy="1954.0" r="14.7" fill="#050505"/>
<circle cx="247.8" cy="1949.0" r="14.7" fill="#050505"/>
<circle cx="247.8" cy="1944.0" r="14.7" fill="#050505"/>
<circle cx="247.8" cy="1939.0" r="14.7" fill="#050505"/>
<circle cx="247.8" cy="1934.0" r="14.7" fill="#050505"/>
<circle cx="247.8" cy="1929.0" r="14.7" fill="#050505"/>
<circle cx="247.8" cy="1924.0" r="14.7" fill="#050505"/>
<circle cx="247.8" cy="1919.0" r="14.7" fill="#050505"/>
<circle cx="247.8" cy="1914.0" r="14.7" fill="#050505"/>
<circle cx="247.8" cy="1909.0" r="14.7" fill="#050505"/>
<circle cx="247.8" cy="1904.0" r="14.7" fill="#050505"/>
<circle cx="247.8" cy="1899.0" r="14.7" fill="#050505"/>
<circle cx="247.8" cy="1894.0" r="14.7" fill="#050505"/>
<circle cx="247.8" cy="1889.0" r="14.7" fill="#050505"/>
<circle cx="247.8" cy="1884.0" r="14.7" fill="#050505"/>
<circle cx="247.8" cy="1879.0" r="14.7" fill="#050505"/>
<circle cx="247.8" cy="1874.0" r="14.7" fill="#050505"/>
<circle cx="247.8" cy="1869.0" r="14.7" fill="#050505"/>
<circle cx="247.8" cy="1864.0" r="14.7" fill="#050505"/>
<circle cx="247.8" cy="1859.0" r="14.7" fill="#050505"/>
<circle cx="247.8" cy="1854.0" r="14.7" fill="#050505"/>
<circle cx="247.8" cy="1849.0" r="14.7" fill="#050505"/>
<circle cx="247.8" cy="1844.0" r="14.7" fill="#050505"/>
<circle cx="247.8" cy="1839.0" r="14.7" fill="#050505"/>
<circle cx="247.8" cy="1834.0" r="14.7" fill="#050505"/>
<circle cx="247.8" cy="1829.0" r="14.7" fill="#050505"/>
<circle cx="247.8" cy="1824.0" r="14.7" fill="#050505"/>
<circle cx="247.9" cy="1819.0" r="14.7" fill="#050505"/>
<circle cx="248.5" cy="1814.0" r="14.7" fill="#050505"/>
<circle cx="249.0" cy="1809.1" r="14.7" fill="#050505"/>
<circle cx="249.5" cy="1804.1" r="14.7" fill="#050505"/>
<circle cx="250.5" cy="1799.3" r="14.7" fill="#050505"/>
<circle cx="253.1" cy="1795.0" r="14.7" fill="#050505"/>
<circle cx="255.7" cy="1790.8" r="14.7" fill="#050505"/>
<circle cx="258.4" cy="1786.5" r="14.7" fill="#050505"/>
<circle cx="260.0" cy="1781.8" r="14.7" fill="#050505"/>
<circle cx="261.2" cy="1777.0" r="14.7" fill="#050505"/>
<circle cx="262.5" cy="1772.1" r="14.7" fill="#050505"/>
<circle cx="263.7" cy="1767.3" r="14.7" fill="#050505"/>
<circle cx="266.5" cy="1763.1" r="14.7" fill="#050505"/>
<circle cx="269.3" cy="1759.0" r="14.7" fill="#050505"/>
<circle cx="272.1" cy="1754.9" r="14.7" fill="#050505"/>
<circle cx="275.7" cy="1751.5" r="14.7" fill="#050505"/>
<circle cx="279.7" cy="1748.5" r="14.7" fill="#050505"/>
<circle cx="283.7" cy="1745.5" r="14.7" fill="#050505"/>
<circle cx="287.7" cy="1742.5" r="14.7" fill="#050505"/>
<circle cx="291.8" cy="1739.7" r="14.7" fill="#050505"/>
<circle cx="296.6" cy="1738.3" r="14.7" fill="#050505"/>
<circle cx="301.4" cy="1736.8" r="14.7" fill="#050505"/>
<circle cx="306.2" cy="1735.4" r="14.7" fill="#050505"/>
<circle cx="311.0" cy="1733.9" r="14.7" fill="#050505"/>
<circle cx="315.8" cy="1732.7" r="14.7" fill="#050505"/>
<circle cx="320.7" cy="1731.7" r="14.7" fill="#050505"/>
<circle cx="325.6" cy="1730.8" r="14.7" fill="#050505"/>
<circle cx="330.5" cy="1729.8" r="14.7" fill="#050505"/>
<circle cx="335.5" cy="1728.9" r="14.7" fill="#050505"/>
<circle cx="340.4" cy="1728.0" r="14.7" fill="#050505"/>
<circle cx="345.3" cy="1727.3" r="14.7" fill="#050505"/>
<circle cx="350.3" cy="1726.6" r="14.7" fill="#050505"/>
<circle cx="413.4" cy="1720.0" r="14.7" fill="#050505"/>
<circle cx="480.5" cy="1713.0" r="14.7" fill="#050505"/>
<circle cx="559.4" cy="1707.5" r="14.7" fill="#050505"/>
<circle cx="638.8" cy="1702.7" r="14.7" fill="#050505"/>
<circle cx="726.0" cy="1695.5" r="14.7" fill="#050505"/>
<circle cx="810.0" cy="1692.8" r="14.7" fill="#050505"/>
<circle cx="1022.5" cy="1684.0" r="14.7" fill="#050505"/>
<circle cx="1125.0" cy="1679.0" r="14.7" fill="#050505"/>
<circle cx="1231.0" cy="1678.5" r="14.7" fill="#050505"/>
<circle cx="1332.5" cy="1671.0" r="14.7" fill="#050505"/>
<circle cx="1446.0" cy="1666.0" r="14.7" fill="#050505"/>
<circle cx="1560.0" cy="1662.5" r="14.7" fill="#050505"/>
<circle cx="1662.5" cy="1657.5" r="14.7" fill="#050505"/>
<circle cx="1780.0" cy="1655.0" r="14.7" fill="#050505"/>
<circle cx="1895.0" cy="1650.0" r="14.7" fill="#050505"/>
<circle cx="2005.0" cy="1645.0" r="14.7" fill="#050505"/>
<circle cx="2123.8" cy="1638.8" r="14.7" fill="#050505"/>
<path d="M2155.0 1632.5L2075.0 1641.0L1976.0 1643.8L1877.5 1647.5L1778.8 1651.0L1680.0 1651.0L1580.0 1656.0L1477.5 1658.0L1395.0 1660.0L1311.0 1662.5L1228.8 1665.0L1151.0 1670.0L1077.5 1680.0L996.0 1686.0L917.0 1688.0L836.5 1690.5L757.0 1695.0L677.8 1701.0L598.3 1705.0" fill="none" stroke="#F03E3E" stroke-width="1.9" stroke-linejoin="round"/>
<circle cx="2155.0" cy="1632.5" r="14.7" fill="#F03E3E"/>
<circle cx="2075.0" cy="1641.0" r="14.7" fill="#F03E3E"/>
<circle cx="1976.0" cy="1643.8" r="14.7" fill="#F03E3E"/>
<circle cx="1877.5" cy="1647.5" r="14.7" fill="#F03E3E"/>
<circle cx="1778.8" cy="1651.0" r="14.7" fill="#F03E3E"/>
<circle cx="1680.0" cy="1651.0" r="14.7" fill="#F03E3E"/>
<circle cx="1580.0" cy="1656.0" r="14.7" fill="#F03E3E"/>
<circle cx="1477.5" cy="1658.0" r="14.7" fill="#F03E3E"/>
<circle cx="1395.0" cy="1660.0" r="14.7" fill="#F03E3E"/>
<circle cx="1311.0" cy="1662.5" r="14.7" fill="#F03E3E"/>
<circle cx="1228.8" cy="1665.0" r="14.7" fill="#F03E3E"/>
<circle cx="1151.0" cy="1670.0" r="14.7" fill="#F03E3E"/>
<circle cx="1077.5" cy="1680.0" r="14.7" fill="#F03E3E"/>
<circle cx="996.0" cy="1686.0" r="14.7" fill="#F03E3E"/>
<circle cx="917.0" cy="1688.0" r="14.7" fill="#F03E3E"/>
<circle cx="836.5" cy="1690.5" r="14.7" fill="#F03E3E"/>
<circle cx="757.0" cy="1695.0" r="14.7" fill="#F03E3E"/>
<circle cx="677.8" cy="1701.0" r="14.7" fill="#F03E3E"/>
<circle cx="598.3" cy="1705.0" r="14.7" fill="#F03E3E"/>
<path d="M247.8 1964.0L247.8 1958.0L247.8 1952.0L247.8 1946.0L247.8 1940.0L247.8 1934.0L247.8 1928.0L247.8 1922.0L247.8 1916.0L247.8 1910.0L247.8 1904.0L247.8 1898.0L247.8 1892.0L247.8 1886.0L247.8 1880.0L247.8 1874.0L247.8 1868.0L247.8 1862.0L247.8 1856.0L247.8 1850.0L247.8 1844.0L247.8 1838.0L247.8 1832.0L247.8 1826.0L247.8 1820.0L247.8 1814.0L247.8 1808.0L247.8 1802.0L247.8 1796.0L247.8 1790.0L247.8 1784.0L247.8 1778.0L247.8 1772.0L247.8 1766.0L247.8 1760.0L247.8 1754.0L247.8 1748.0L247.8 1742.0L247.8 1736.0L247.8 1730.0L247.8 1724.0L247.8 1718.0L247.8 1712.0L247.8 1706.0L247.8 1700.0L247.8 1694.0L247.8 1688.0L247.8 1682.0L247.8 1676.0L247.8 1670.0L247.8 1664.0L247.9 1658.0L248.2 1652.0L248.6 1646.0L248.9 1640.0L249.2 1634.0L249.6 1628.0L249.9 1622.1L250.5 1616.1L251.2 1610.1L252.0 1604.2L252.7 1598.2L253.5 1592.3L254.2 1586.3L255.0 1580.4L255.5 1574.4L256.1 1568.4L256.7 1562.5L257.3 1556.5L257.9 1550.5L258.5 1544.5L259.1 1538.6L259.9 1532.6L260.7 1526.7L261.5 1520.7L262.6 1514.9L264.6 1509.2L266.6 1503.6L268.6 1497.9L270.7 1492.3L273.1 1486.8L275.4 1481.2L277.7 1475.7L280.1 1470.2L282.7 1464.8L285.4 1459.4L288.0 1454.0L290.7 1448.6L294.3 1443.9L298.1 1439.3L301.9 1434.6L305.7 1430.0L309.6 1425.4L313.9 1421.2L318.3 1417.1L322.6 1413.0L327.0 1408.8L331.3 1404.7L336.3 1401.6L341.9 1399.4L379.0 1374.0L423.7 1348.0L471.8 1327.6L523.5 1304.0L583.5 1279.0L643.7 1260.4L706.7 1241.7L768.5 1224.5L836.5 1207.3L916.1 1187.0L995.6 1170.8L1077.4 1152.7L1155.4 1134.0L1236.0 1115.0L1321.7 1100.9L1398.8 1082.2L1479.9 1061.9L1558.8 1041.0L1631.5 1019.8L1710.1 995.5L1789.7 968.3L1870.0 943.0L1944.0 912.0L2015.1 881.9L2077.5 855.4L2111.9 838.2L2152.4 812.0" fill="none" stroke="#050505" stroke-width="2.1" stroke-linejoin="round"/>
<rect x="236.5" y="1952.7" width="22.6" height="22.6" fill="#fff" stroke="#050505" stroke-width="2.5"/><rect x="235.3" y="1964.0" width="25.0" height="12.5" fill="#050505"/>
<rect x="236.5" y="1946.7" width="22.6" height="22.6" fill="#fff" stroke="#050505" stroke-width="2.5"/><rect x="235.3" y="1958.0" width="25.0" height="12.5" fill="#050505"/>
<rect x="236.5" y="1940.7" width="22.6" height="22.6" fill="#fff" stroke="#050505" stroke-width="2.5"/><rect x="235.3" y="1952.0" width="25.0" height="12.5" fill="#050505"/>
<rect x="236.5" y="1934.7" width="22.6" height="22.6" fill="#fff" stroke="#050505" stroke-width="2.5"/><rect x="235.3" y="1946.0" width="25.0" height="12.5" fill="#050505"/>
<rect x="236.5" y="1928.7" width="22.6" height="22.6" fill="#fff" stroke="#050505" stroke-width="2.5"/><rect x="235.3" y="1940.0" width="25.0" height="12.5" fill="#050505"/>
<rect x="236.5" y="1922.7" width="22.6" height="22.6" fill="#fff" stroke="#050505" stroke-width="2.5"/><rect x="235.3" y="1934.0" width="25.0" height="12.5" fill="#050505"/>
<rect x="236.5" y="1916.7" width="22.6" height="22.6" fill="#fff" stroke="#050505" stroke-width="2.5"/><rect x="235.3" y="1928.0" width="25.0" height="12.5" fill="#050505"/>
<rect x="236.5" y="1910.7" width="22.6" height="22.6" fill="#fff" stroke="#050505" stroke-width="2.5"/><rect x="235.3" y="1922.0" width="25.0" height="12.5" fill="#050505"/>
<rect x="236.5" y="1904.7" width="22.6" height="22.6" fill="#fff" stroke="#050505" stroke-width="2.5"/><rect x="235.3" y="1916.0" width="25.0" height="12.5" fill="#050505"/>
<rect x="236.5" y="1898.7" width="22.6" height="22.6" fill="#fff" stroke="#050505" stroke-width="2.5"/><rect x="235.3" y="1910.0" width="25.0" height="12.5" fill="#050505"/>
<rect x="236.5" y="1892.7" width="22.6" height="22.6" fill="#fff" stroke="#050505" stroke-width="2.5"/><rect x="235.3" y="1904.0" width="25.0" height="12.5" fill="#050505"/>
<rect x="236.5" y="1886.7" width="22.6" height="22.6" fill="#fff" stroke="#050505" stroke-width="2.5"/><rect x="235.3" y="1898.0" width="25.0" height="12.5" fill="#050505"/>
<rect x="236.5" y="1880.7" width="22.6" height="22.6" fill="#fff" stroke="#050505" stroke-width="2.5"/><rect x="235.3" y="1892.0" width="25.0" height="12.5" fill="#050505"/>
<rect x="236.5" y="1874.7" width="22.6" height="22.6" fill="#fff" stroke="#050505" stroke-width="2.5"/><rect x="235.3" y="1886.0" width="25.0" height="12.5" fill="#050505"/>
<rect x="236.5" y="1868.7" width="22.6" height="22.6" fill="#fff" stroke="#050505" stroke-width="2.5"/><rect x="235.3" y="1880.0" width="25.0" height="12.5" fill="#050505"/>
<rect x="236.5" y="1862.7" width="22.6" height="22.6" fill="#fff" stroke="#050505" stroke-width="2.5"/><rect x="235.3" y="1874.0" width="25.0" height="12.5" fill="#050505"/>
<rect x="236.5" y="1856.7" width="22.6" height="22.6" fill="#fff" stroke="#050505" stroke-width="2.5"/><rect x="235.3" y="1868.0" width="25.0" height="12.5" fill="#050505"/>
<rect x="236.5" y="1850.7" width="22.6" height="22.6" fill="#fff" stroke="#050505" stroke-width="2.5"/><rect x="235.3" y="1862.0" width="25.0" height="12.5" fill="#050505"/>
<rect x="236.5" y="1844.7" width="22.6" height="22.6" fill="#fff" stroke="#050505" stroke-width="2.5"/><rect x="235.3" y="1856.0" width="25.0" height="12.5" fill="#050505"/>
<rect x="236.5" y="1838.7" width="22.6" height="22.6" fill="#fff" stroke="#050505" stroke-width="2.5"/><rect x="235.3" y="1850.0" width="25.0" height="12.5" fill="#050505"/>
<rect x="236.5" y="1832.7" width="22.6" height="22.6" fill="#fff" stroke="#050505" stroke-width="2.5"/><rect x="235.3" y="1844.0" width="25.0" height="12.5" fill="#050505"/>
<rect x="236.5" y="1826.7" width="22.6" height="22.6" fill="#fff" stroke="#050505" stroke-width="2.5"/><rect x="235.3" y="1838.0" width="25.0" height="12.5" fill="#050505"/>
<rect x="236.5" y="1820.7" width="22.6" height="22.6" fill="#fff" stroke="#050505" stroke-width="2.5"/><rect x="235.3" y="1832.0" width="25.0" height="12.5" fill="#050505"/>
<rect x="236.5" y="1814.7" width="22.6" height="22.6" fill="#fff" stroke="#050505" stroke-width="2.5"/><rect x="235.3" y="1826.0" width="25.0" height="12.5" fill="#050505"/>
<rect x="236.5" y="1808.7" width="22.6" height="22.6" fill="#fff" stroke="#050505" stroke-width="2.5"/><rect x="235.3" y="1820.0" width="25.0" height="12.5" fill="#050505"/>
<rect x="236.5" y="1802.7" width="22.6" height="22.6" fill="#fff" stroke="#050505" stroke-width="2.5"/><rect x="235.3" y="1814.0" width="25.0" height="12.5" fill="#050505"/>
<rect x="236.5" y="1796.7" width="22.6" height="22.6" fill="#fff" stroke="#050505" stroke-width="2.5"/><rect x="235.3" y="1808.0" width="25.0" height="12.5" fill="#050505"/>
<rect x="236.5" y="1790.7" width="22.6" height="22.6" fill="#fff" stroke="#050505" stroke-width="2.5"/><rect x="235.3" y="1802.0" width="25.0" height="12.5" fill="#050505"/>
<rect x="236.5" y="1784.7" width="22.6" height="22.6" fill="#fff" stroke="#050505" stroke-width="2.5"/><rect x="235.3" y="1796.0" width="25.0" height="12.5" fill="#050505"/>
<rect x="236.5" y="1778.7" width="22.6" height="22.6" fill="#fff" stroke="#050505" stroke-width="2.5"/><rect x="235.3" y="1790.0" width="25.0" height="12.5" fill="#050505"/>
<rect x="236.5" y="1772.7" width="22.6" height="22.6" fill="#fff" stroke="#050505" stroke-width="2.5"/><rect x="235.3" y="1784.0" width="25.0" height="12.5" fill="#050505"/>
<rect x="236.5" y="1766.7" width="22.6" height="22.6" fill="#fff" stroke="#050505" stroke-width="2.5"/><rect x="235.3" y="1778.0" width="25.0" height="12.5" fill="#050505"/>
<rect x="236.5" y="1760.7" width="22.6" height="22.6" fill="#fff" stroke="#050505" stroke-width="2.5"/><rect x="235.3" y="1772.0" width="25.0" height="12.5" fill="#050505"/>
<rect x="236.5" y="1754.7" width="22.6" height="22.6" fill="#fff" stroke="#050505" stroke-width="2.5"/><rect x="235.3" y="1766.0" width="25.0" height="12.5" fill="#050505"/>
<rect x="236.5" y="1748.7" width="22.6" height="22.6" fill="#fff" stroke="#050505" stroke-width="2.5"/><rect x="235.3" y="1760.0" width="25.0" height="12.5" fill="#050505"/>
<rect x="236.5" y="1742.7" width="22.6" height="22.6" fill="#fff" stroke="#050505" stroke-width="2.5"/><rect x="235.3" y="1754.0" width="25.0" height="12.5" fill="#050505"/>
<rect x="236.5" y="1736.7" width="22.6" height="22.6" fill="#fff" stroke="#050505" stroke-width="2.5"/><rect x="235.3" y="1748.0" width="25.0" height="12.5" fill="#050505"/>
<rect x="236.5" y="1730.7" width="22.6" height="22.6" fill="#fff" stroke="#050505" stroke-width="2.5"/><rect x="235.3" y="1742.0" width="25.0" height="12.5" fill="#050505"/>
<rect x="236.5" y="1724.7" width="22.6" height="22.6" fill="#fff" stroke="#050505" stroke-width="2.5"/><rect x="235.3" y="1736.0" width="25.0" height="12.5" fill="#050505"/>
<rect x="236.5" y="1718.7" width="22.6" height="22.6" fill="#fff" stroke="#050505" stroke-width="2.5"/><rect x="235.3" y="1730.0" width="25.0" height="12.5" fill="#050505"/>
<rect x="236.5" y="1712.7" width="22.6" height="22.6" fill="#fff" stroke="#050505" stroke-width="2.5"/><rect x="235.3" y="1724.0" width="25.0" height="12.5" fill="#050505"/>
<rect x="236.5" y="1706.7" width="22.6" height="22.6" fill="#fff" stroke="#050505" stroke-width="2.5"/><rect x="235.3" y="1718.0" width="25.0" height="12.5" fill="#050505"/>
<rect x="236.5" y="1700.7" width="22.6" height="22.6" fill="#fff" stroke="#050505" stroke-width="2.5"/><rect x="235.3" y="1712.0" width="25.0" height="12.5" fill="#050505"/>
<rect x="236.5" y="1694.7" width="22.6" height="22.6" fill="#fff" stroke="#050505" stroke-width="2.5"/><rect x="235.3" y="1706.0" width="25.0" height="12.5" fill="#050505"/>
<rect x="236.5" y="1688.7" width="22.6" height="22.6" fill="#fff" stroke="#050505" stroke-width="2.5"/><rect x="235.3" y="1700.0" width="25.0" height="12.5" fill="#050505"/>
<rect x="236.5" y="1682.7" width="22.6" height="22.6" fill="#fff" stroke="#050505" stroke-width="2.5"/><rect x="235.3" y="1694.0" width="25.0" height="12.5" fill="#050505"/>
<rect x="236.5" y="1676.7" width="22.6" height="22.6" fill="#fff" stroke="#050505" stroke-width="2.5"/><rect x="235.3" y="1688.0" width="25.0" height="12.5" fill="#050505"/>
<rect x="236.5" y="1670.7" width="22.6" height="22.6" fill="#fff" stroke="#050505" stroke-width="2.5"/><rect x="235.3" y="1682.0" width="25.0" height="12.5" fill="#050505"/>
<rect x="236.5" y="1664.7" width="22.6" height="22.6" fill="#fff" stroke="#050505" stroke-width="2.5"/><rect x="235.3" y="1676.0" width="25.0" height="12.5" fill="#050505"/>
<rect x="236.5" y="1658.7" width="22.6" height="22.6" fill="#fff" stroke="#050505" stroke-width="2.5"/><rect x="235.3" y="1670.0" width="25.0" height="12.5" fill="#050505"/>
<rect x="236.5" y="1652.7" width="22.6" height="22.6" fill="#fff" stroke="#050505" stroke-width="2.5"/><rect x="235.3" y="1664.0" width="25.0" height="12.5" fill="#050505"/>
<rect x="236.6" y="1646.7" width="22.6" height="22.6" fill="#fff" stroke="#050505" stroke-width="2.5"/><rect x="235.4" y="1658.0" width="25.0" height="12.5" fill="#050505"/>
<rect x="236.9" y="1640.7" width="22.6" height="22.6" fill="#fff" stroke="#050505" stroke-width="2.5"/><rect x="235.7" y="1652.0" width="25.0" height="12.5" fill="#050505"/>
<rect x="237.3" y="1634.7" width="22.6" height="22.6" fill="#fff" stroke="#050505" stroke-width="2.5"/><rect x="236.1" y="1646.0" width="25.0" height="12.5" fill="#050505"/>
<rect x="237.6" y="1628.7" width="22.6" height="22.6" fill="#fff" stroke="#050505" stroke-width="2.5"/><rect x="236.4" y="1640.0" width="25.0" height="12.5" fill="#050505"/>
<rect x="237.9" y="1622.7" width="22.6" height="22.6" fill="#fff" stroke="#050505" stroke-width="2.5"/><rect x="236.7" y="1634.0" width="25.0" height="12.5" fill="#050505"/>
<rect x="238.3" y="1616.7" width="22.6" height="22.6" fill="#fff" stroke="#050505" stroke-width="2.5"/><rect x="237.1" y="1628.0" width="25.0" height="12.5" fill="#050505"/>
<rect x="238.6" y="1610.8" width="22.6" height="22.6" fill="#fff" stroke="#050505" stroke-width="2.5"/><rect x="237.4" y="1622.1" width="25.0" height="12.5" fill="#050505"/>
<rect x="239.2" y="1604.8" width="22.6" height="22.6" fill="#fff" stroke="#050505" stroke-width="2.5"/><rect x="238.0" y="1616.1" width="25.0" height="12.5" fill="#050505"/>
<rect x="239.9" y="1598.8" width="22.6" height="22.6" fill="#fff" stroke="#050505" stroke-width="2.5"/><rect x="238.7" y="1610.1" width="25.0" height="12.5" fill="#050505"/>
<rect x="240.7" y="1592.9" width="22.6" height="22.6" fill="#fff" stroke="#050505" stroke-width="2.5"/><rect x="239.5" y="1604.2" width="25.0" height="12.5" fill="#050505"/>
<rect x="241.4" y="1586.9" width="22.6" height="22.6" fill="#fff" stroke="#050505" stroke-width="2.5"/><rect x="240.2" y="1598.2" width="25.0" height="12.5" fill="#050505"/>
<rect x="242.2" y="1581.0" width="22.6" height="22.6" fill="#fff" stroke="#050505" stroke-width="2.5"/><rect x="241.0" y="1592.3" width="25.0" height="12.5" fill="#050505"/>
<rect x="242.9" y="1575.0" width="22.6" height="22.6" fill="#fff" stroke="#050505" stroke-width="2.5"/><rect x="241.7" y="1586.3" width="25.0" height="12.5" fill="#050505"/>
<rect x="243.7" y="1569.1" width="22.6" height="22.6" fill="#fff" stroke="#050505" stroke-width="2.5"/><rect x="242.5" y="1580.4" width="25.0" height="12.5" fill="#050505"/>
<rect x="244.2" y="1563.1" width="22.6" height="22.6" fill="#fff" stroke="#050505" stroke-width="2.5"/><rect x="243.0" y="1574.4" width="25.0" height="12.5" fill="#050505"/>
<rect x="244.8" y="1557.1" width="22.6" height="22.6" fill="#fff" stroke="#050505" stroke-width="2.5"/><rect x="243.6" y="1568.4" width="25.0" height="12.5" fill="#050505"/>
<rect x="245.4" y="1551.2" width="22.6" height="22.6" fill="#fff" stroke="#050505" stroke-width="2.5"/><rect x="244.2" y="1562.5" width="25.0" height="12.5" fill="#050505"/>
<rect x="246.0" y="1545.2" width="22.6" height="22.6" fill="#fff" stroke="#050505" stroke-width="2.5"/><rect x="244.8" y="1556.5" width="25.0" height="12.5" fill="#050505"/>
<rect x="246.6" y="1539.2" width="22.6" height="22.6" fill="#fff" stroke="#050505" stroke-width="2.5"/><rect x="245.4" y="1550.5" width="25.0" height="12.5" fill="#050505"/>
<rect x="247.2" y="1533.2" width="22.6" height="22.6" fill="#fff" stroke="#050505" stroke-width="2.5"/><rect x="246.0" y="1544.5" width="25.0" height="12.5" fill="#050505"/>
<rect x="247.8" y="1527.3" width="22.6" height="22.6" fill="#fff" stroke="#050505" stroke-width="2.5"/><rect x="246.6" y="1538.6" width="25.0" height="12.5" fill="#050505"/>
<rect x="248.6" y="1521.3" width="22.6" height="22.6" fill="#fff" stroke="#050505" stroke-width="2.5"/><rect x="247.4" y="1532.6" width="25.0" height="12.5" fill="#050505"/>
<rect x="249.4" y="1515.4" width="22.6" height="22.6" fill="#fff" stroke="#050505" stroke-width="2.5"/><rect x="248.2" y="1526.7" width="25.0" height="12.5" fill="#050505"/>
<rect x="250.2" y="1509.4" width="22.6" height="22.6" fill="#fff" stroke="#050505" stroke-width="2.5"/><rect x="249.0" y="1520.7" width="25.0" height="12.5" fill="#050505"/>
<rect x="251.3" y="1503.6" width="22.6" height="22.6" fill="#fff" stroke="#050505" stroke-width="2.5"/><rect x="250.1" y="1514.9" width="25.0" height="12.5" fill="#050505"/>
<rect x="253.3" y="1497.9" width="22.6" height="22.6" fill="#fff" stroke="#050505" stroke-width="2.5"/><rect x="252.1" y="1509.2" width="25.0" height="12.5" fill="#050505"/>
<rect x="255.3" y="1492.3" width="22.6" height="22.6" fill="#fff" stroke="#050505" stroke-width="2.5"/><rect x="254.1" y="1503.6" width="25.0" height="12.5" fill="#050505"/>
<rect x="257.3" y="1486.6" width="22.6" height="22.6" fill="#fff" stroke="#050505" stroke-width="2.5"/><rect x="256.1" y="1497.9" width="25.0" height="12.5" fill="#050505"/>
<rect x="259.4" y="1481.0" width="22.6" height="22.6" fill="#fff" stroke="#050505" stroke-width="2.5"/><rect x="258.2" y="1492.3" width="25.0" height="12.5" fill="#050505"/>
<rect x="261.8" y="1475.5" width="22.6" height="22.6" fill="#fff" stroke="#050505" stroke-width="2.5"/><rect x="260.6" y="1486.8" width="25.0" height="12.5" fill="#050505"/>
<rect x="264.1" y="1469.9" width="22.6" height="22.6" fill="#fff" stroke="#050505" stroke-width="2.5"/><rect x="262.9" y="1481.2" width="25.0" height="12.5" fill="#050505"/>
<rect x="266.4" y="1464.4" width="22.6" height="22.6" fill="#fff" stroke="#050505" stroke-width="2.5"/><rect x="265.2" y="1475.7" width="25.0" height="12.5" fill="#050505"/>
<rect x="268.8" y="1458.9" width="22.6" height="22.6" fill="#fff" stroke="#050505" stroke-width="2.5"/><rect x="267.6" y="1470.2" width="25.0" height="12.5" fill="#050505"/>
<rect x="271.4" y="1453.5" width="22.6" height="22.6" fill="#fff" stroke="#050505" stroke-width="2.5"/><rect x="270.2" y="1464.8" width="25.0" height="12.5" fill="#050505"/>
<rect x="274.1" y="1448.1" width="22.6" height="22.6" fill="#fff" stroke="#050505" stroke-width="2.5"/><rect x="272.9" y="1459.4" width="25.0" height="12.5" fill="#050505"/>
<rect x="276.7" y="1442.7" width="22.6" height="22.6" fill="#fff" stroke="#050505" stroke-width="2.5"/><rect x="275.5" y="1454.0" width="25.0" height="12.5" fill="#050505"/>
<rect x="279.4" y="1437.3" width="22.6" height="22.6" fill="#fff" stroke="#050505" stroke-width="2.5"/><rect x="278.2" y="1448.6" width="25.0" height="12.5" fill="#050505"/>
<rect x="283.0" y="1432.6" width="22.6" height="22.6" fill="#fff" stroke="#050505" stroke-width="2.5"/><rect x="281.8" y="1443.9" width="25.0" height="12.5" fill="#050505"/>
<rect x="286.8" y="1428.0" width="22.6" height="22.6" fill="#fff" stroke="#050505" stroke-width="2.5"/><rect x="285.6" y="1439.3" width="25.0" height="12.5" fill="#050505"/>
<rect x="290.6" y="1423.3" width="22.6" height="22.6" fill="#fff" stroke="#050505" stroke-width="2.5"/><rect x="289.4" y="1434.6" width="25.0" height="12.5" fill="#050505"/>
<rect x="294.4" y="1418.7" width="22.6" height="22.6" fill="#fff" stroke="#050505" stroke-width="2.5"/><rect x="293.2" y="1430.0" width="25.0" height="12.5" fill="#050505"/>
<rect x="298.3" y="1414.1" width="22.6" height="22.6" fill="#fff" stroke="#050505" stroke-width="2.5"/><rect x="297.1" y="1425.4" width="25.0" height="12.5" fill="#050505"/>
<rect x="302.6" y="1409.9" width="22.6" height="22.6" fill="#fff" stroke="#050505" stroke-width="2.5"/><rect x="301.4" y="1421.2" width="25.0" height="12.5" fill="#050505"/>
<rect x="307.0" y="1405.8" width="22.6" height="22.6" fill="#fff" stroke="#050505" stroke-width="2.5"/><rect x="305.8" y="1417.1" width="25.0" height="12.5" fill="#050505"/>
<rect x="311.3" y="1401.7" width="22.6" height="22.6" fill="#fff" stroke="#050505" stroke-width="2.5"/><rect x="310.1" y="1413.0" width="25.0" height="12.5" fill="#050505"/>
<rect x="315.7" y="1397.5" width="22.6" height="22.6" fill="#fff" stroke="#050505" stroke-width="2.5"/><rect x="314.5" y="1408.8" width="25.0" height="12.5" fill="#050505"/>
<rect x="320.0" y="1393.4" width="22.6" height="22.6" fill="#fff" stroke="#050505" stroke-width="2.5"/><rect x="318.8" y="1404.7" width="25.0" height="12.5" fill="#050505"/>
<rect x="325.0" y="1390.3" width="22.6" height="22.6" fill="#fff" stroke="#050505" stroke-width="2.5"/><rect x="323.8" y="1401.6" width="25.0" height="12.5" fill="#050505"/>
<rect x="330.6" y="1388.1" width="22.6" height="22.6" fill="#fff" stroke="#050505" stroke-width="2.5"/><rect x="329.4" y="1399.4" width="25.0" height="12.5" fill="#050505"/>
<rect x="366.3" y="1361.3" width="25.4" height="25.4" fill="#fff" stroke="#050505" stroke-width="2.5"/><rect x="365.1" y="1374.0" width="27.9" height="13.95" fill="#050505"/>
<rect x="411.0" y="1335.3" width="25.4" height="25.4" fill="#fff" stroke="#050505" stroke-width="2.5"/><rect x="409.8" y="1348.0" width="27.9" height="13.95" fill="#050505"/>
<rect x="459.1" y="1314.9" width="25.4" height="25.4" fill="#fff" stroke="#050505" stroke-width="2.5"/><rect x="457.9" y="1327.6" width="27.9" height="13.95" fill="#050505"/>
<rect x="510.8" y="1291.3" width="25.4" height="25.4" fill="#fff" stroke="#050505" stroke-width="2.5"/><rect x="509.6" y="1304.0" width="27.9" height="13.95" fill="#050505"/>
<rect x="570.8" y="1266.3" width="25.4" height="25.4" fill="#fff" stroke="#050505" stroke-width="2.5"/><rect x="569.5" y="1279.0" width="27.9" height="13.95" fill="#050505"/>
<rect x="631.0" y="1247.7" width="25.4" height="25.4" fill="#fff" stroke="#050505" stroke-width="2.5"/><rect x="629.8" y="1260.4" width="27.9" height="13.95" fill="#050505"/>
<rect x="694.0" y="1229.0" width="25.4" height="25.4" fill="#fff" stroke="#050505" stroke-width="2.5"/><rect x="692.8" y="1241.7" width="27.9" height="13.95" fill="#050505"/>
<rect x="755.8" y="1211.8" width="25.4" height="25.4" fill="#fff" stroke="#050505" stroke-width="2.5"/><rect x="754.5" y="1224.5" width="27.9" height="13.95" fill="#050505"/>
<rect x="823.8" y="1194.6" width="25.4" height="25.4" fill="#fff" stroke="#050505" stroke-width="2.5"/><rect x="822.5" y="1207.3" width="27.9" height="13.95" fill="#050505"/>
<rect x="903.4" y="1174.3" width="25.4" height="25.4" fill="#fff" stroke="#050505" stroke-width="2.5"/><rect x="902.1" y="1187.0" width="27.9" height="13.95" fill="#050505"/>
<rect x="982.9" y="1158.1" width="25.4" height="25.4" fill="#fff" stroke="#050505" stroke-width="2.5"/><rect x="981.6" y="1170.8" width="27.9" height="13.95" fill="#050505"/>
<rect x="1064.7" y="1140.0" width="25.4" height="25.4" fill="#fff" stroke="#050505" stroke-width="2.5"/><rect x="1063.5" y="1152.7" width="27.9" height="13.95" fill="#050505"/>
<rect x="1142.7" y="1121.3" width="25.4" height="25.4" fill="#fff" stroke="#050505" stroke-width="2.5"/><rect x="1141.5" y="1134.0" width="27.9" height="13.95" fill="#050505"/>
<rect x="1223.3" y="1102.3" width="25.4" height="25.4" fill="#fff" stroke="#050505" stroke-width="2.5"/><rect x="1222.0" y="1115.0" width="27.9" height="13.95" fill="#050505"/>
<rect x="1309.0" y="1088.2" width="25.4" height="25.4" fill="#fff" stroke="#050505" stroke-width="2.5"/><rect x="1307.8" y="1100.9" width="27.9" height="13.95" fill="#050505"/>
<rect x="1386.1" y="1069.5" width="25.4" height="25.4" fill="#fff" stroke="#050505" stroke-width="2.5"/><rect x="1384.8" y="1082.2" width="27.9" height="13.95" fill="#050505"/>
<rect x="1467.2" y="1049.2" width="25.4" height="25.4" fill="#fff" stroke="#050505" stroke-width="2.5"/><rect x="1466.0" y="1061.9" width="27.9" height="13.95" fill="#050505"/>
<rect x="1546.1" y="1028.3" width="25.4" height="25.4" fill="#fff" stroke="#050505" stroke-width="2.5"/><rect x="1544.8" y="1041.0" width="27.9" height="13.95" fill="#050505"/>
<rect x="1618.8" y="1007.1" width="25.4" height="25.4" fill="#fff" stroke="#050505" stroke-width="2.5"/><rect x="1617.5" y="1019.8" width="27.9" height="13.95" fill="#050505"/>
<rect x="1697.4" y="982.8" width="25.4" height="25.4" fill="#fff" stroke="#050505" stroke-width="2.5"/><rect x="1696.1" y="995.5" width="27.9" height="13.95" fill="#050505"/>
<rect x="1777.0" y="955.6" width="25.4" height="25.4" fill="#fff" stroke="#050505" stroke-width="2.5"/><rect x="1775.8" y="968.3" width="27.9" height="13.95" fill="#050505"/>
<rect x="1857.3" y="930.3" width="25.4" height="25.4" fill="#fff" stroke="#050505" stroke-width="2.5"/><rect x="1856.0" y="943.0" width="27.9" height="13.95" fill="#050505"/>
<rect x="1931.3" y="899.3" width="25.4" height="25.4" fill="#fff" stroke="#050505" stroke-width="2.5"/><rect x="1930.0" y="912.0" width="27.9" height="13.95" fill="#050505"/>
<rect x="2002.4" y="869.2" width="25.4" height="25.4" fill="#fff" stroke="#050505" stroke-width="2.5"/><rect x="2001.1" y="881.9" width="27.9" height="13.95" fill="#050505"/>
<rect x="2064.8" y="842.7" width="25.4" height="25.4" fill="#fff" stroke="#050505" stroke-width="2.5"/><rect x="2063.6" y="855.4" width="27.9" height="13.95" fill="#050505"/>
<rect x="2099.2" y="825.5" width="25.4" height="25.4" fill="#fff" stroke="#050505" stroke-width="2.5"/><rect x="2098.0" y="838.2" width="27.9" height="13.95" fill="#050505"/>
<rect x="2139.7" y="799.3" width="25.4" height="25.4" fill="#fff" stroke="#050505" stroke-width="2.5"/><rect x="2138.5" y="812.0" width="27.9" height="13.95" fill="#050505"/>
<path d="M2152.4 810.1L2071.3 828.2L1995.5 852.3L1925.3 874.1L1849.8 892.8L1775.7 916.2L1697.7 937.1L1621.2 954.3L1542.3 970.8L1475.2 986.1L1412.2 1000.5L1347.6 1015.1L1285.2 1030.7L1221.8 1047.9L1178.8 1075.0L1149.1 1107.5L1108.6 1140.2L1053.4 1159.6L993.8 1176.1L865.2 1201.1L803.4 1218.3L742.0 1236.3L682.7 1254.1L626.5 1274.4L571.0 1290.0" fill="none" stroke="#F03E3E" stroke-width="1.9" stroke-linejoin="round"/>
<rect x="2139.7" y="797.4" width="25.4" height="25.4" fill="#fff" stroke="#F03E3E" stroke-width="2.5"/><rect x="2138.5" y="810.1" width="27.9" height="13.95" fill="#F03E3E"/>
<rect x="2058.6" y="815.5" width="25.4" height="25.4" fill="#fff" stroke="#F03E3E" stroke-width="2.5"/><rect x="2057.4" y="828.2" width="27.9" height="13.95" fill="#F03E3E"/>
<rect x="1982.8" y="839.6" width="25.4" height="25.4" fill="#fff" stroke="#F03E3E" stroke-width="2.5"/><rect x="1981.5" y="852.3" width="27.9" height="13.95" fill="#F03E3E"/>
<rect x="1912.6" y="861.4" width="25.4" height="25.4" fill="#fff" stroke="#F03E3E" stroke-width="2.5"/><rect x="1911.3" y="874.1" width="27.9" height="13.95" fill="#F03E3E"/>
<rect x="1837.1" y="880.1" width="25.4" height="25.4" fill="#fff" stroke="#F03E3E" stroke-width="2.5"/><rect x="1835.8" y="892.8" width="27.9" height="13.95" fill="#F03E3E"/>
<rect x="1763.0" y="903.5" width="25.4" height="25.4" fill="#fff" stroke="#F03E3E" stroke-width="2.5"/><rect x="1761.8" y="916.2" width="27.9" height="13.95" fill="#F03E3E"/>
<rect x="1685.0" y="924.4" width="25.4" height="25.4" fill="#fff" stroke="#F03E3E" stroke-width="2.5"/><rect x="1683.8" y="937.1" width="27.9" height="13.95" fill="#F03E3E"/>
<rect x="1608.5" y="941.6" width="25.4" height="25.4" fill="#fff" stroke="#F03E3E" stroke-width="2.5"/><rect x="1607.2" y="954.3" width="27.9" height="13.95" fill="#F03E3E"/>
<rect x="1529.6" y="958.1" width="25.4" height="25.4" fill="#fff" stroke="#F03E3E" stroke-width="2.5"/><rect x="1528.3" y="970.8" width="27.9" height="13.95" fill="#F03E3E"/>
<rect x="1462.5" y="973.4" width="25.4" height="25.4" fill="#fff" stroke="#F03E3E" stroke-width="2.5"/><rect x="1461.2" y="986.1" width="27.9" height="13.95" fill="#F03E3E"/>
<rect x="1399.5" y="987.8" width="25.4" height="25.4" fill="#fff" stroke="#F03E3E" stroke-width="2.5"/><rect x="1398.2" y="1000.5" width="27.9" height="13.95" fill="#F03E3E"/>
<rect x="1334.9" y="1002.4" width="25.4" height="25.4" fill="#fff" stroke="#F03E3E" stroke-width="2.5"/><rect x="1333.6" y="1015.1" width="27.9" height="13.95" fill="#F03E3E"/>
<rect x="1272.5" y="1018.0" width="25.4" height="25.4" fill="#fff" stroke="#F03E3E" stroke-width="2.5"/><rect x="1271.2" y="1030.7" width="27.9" height="13.95" fill="#F03E3E"/>
<rect x="1209.1" y="1035.2" width="25.4" height="25.4" fill="#fff" stroke="#F03E3E" stroke-width="2.5"/><rect x="1207.8" y="1047.9" width="27.9" height="13.95" fill="#F03E3E"/>
<rect x="1166.1" y="1062.3" width="25.4" height="25.4" fill="#fff" stroke="#F03E3E" stroke-width="2.5"/><rect x="1164.8" y="1075.0" width="27.9" height="13.95" fill="#F03E3E"/>
<rect x="1136.4" y="1094.8" width="25.4" height="25.4" fill="#fff" stroke="#F03E3E" stroke-width="2.5"/><rect x="1135.1" y="1107.5" width="27.9" height="13.95" fill="#F03E3E"/>
<rect x="1095.9" y="1127.5" width="25.4" height="25.4" fill="#fff" stroke="#F03E3E" stroke-width="2.5"/><rect x="1094.6" y="1140.2" width="27.9" height="13.95" fill="#F03E3E"/>
<rect x="1040.7" y="1146.9" width="25.4" height="25.4" fill="#fff" stroke="#F03E3E" stroke-width="2.5"/><rect x="1039.5" y="1159.6" width="27.9" height="13.95" fill="#F03E3E"/>
<rect x="981.1" y="1163.4" width="25.4" height="25.4" fill="#fff" stroke="#F03E3E" stroke-width="2.5"/><rect x="979.8" y="1176.1" width="27.9" height="13.95" fill="#F03E3E"/>
<rect x="852.5" y="1188.4" width="25.4" height="25.4" fill="#fff" stroke="#F03E3E" stroke-width="2.5"/><rect x="851.2" y="1201.1" width="27.9" height="13.95" fill="#F03E3E"/>
<rect x="790.7" y="1205.6" width="25.4" height="25.4" fill="#fff" stroke="#F03E3E" stroke-width="2.5"/><rect x="789.4" y="1218.3" width="27.9" height="13.95" fill="#F03E3E"/>
<rect x="729.3" y="1223.6" width="25.4" height="25.4" fill="#fff" stroke="#F03E3E" stroke-width="2.5"/><rect x="728.0" y="1236.3" width="27.9" height="13.95" fill="#F03E3E"/>
<rect x="670.0" y="1241.4" width="25.4" height="25.4" fill="#fff" stroke="#F03E3E" stroke-width="2.5"/><rect x="668.8" y="1254.1" width="27.9" height="13.95" fill="#F03E3E"/>
<rect x="613.8" y="1261.7" width="25.4" height="25.4" fill="#fff" stroke="#F03E3E" stroke-width="2.5"/><rect x="612.5" y="1274.4" width="27.9" height="13.95" fill="#F03E3E"/>
<rect x="558.3" y="1277.3" width="25.4" height="25.4" fill="#fff" stroke="#F03E3E" stroke-width="2.5"/><rect x="557.0" y="1290.0" width="27.9" height="13.95" fill="#F03E3E"/>
<path d="M252.0 1650.0L253.4 1644.2L254.9 1638.3L256.3 1632.5L257.7 1626.7L259.2 1620.9L261.0 1615.1L262.7 1609.4L264.5 1603.7L266.3 1598.0L268.5 1592.4L270.7 1586.8L272.9 1581.2L275.2 1575.7L277.9 1570.3L280.6 1564.9L283.3 1559.6L286.0 1554.2L289.3 1549.2L292.7 1544.3L296.1 1539.4L299.6 1534.5L303.2 1529.7L307.6 1525.7L312.1 1521.7L316.6 1517.7L321.0 1513.6L325.5 1509.6L329.8 1505.5L334.1 1501.3L338.5 1497.2L342.8 1493.0L347.1 1488.8L376.0 1466.5L415.0 1440.0L454.0 1421.0L502.3 1396.0L553.8 1369.7L607.8 1343.0L660.8 1324.3L712.3 1304.0L766.9 1283.8L827.8 1261.9L894.8 1240.1L968.2 1215.1L1043.0 1188.6L1114.8 1165.2L1186.6 1140.2L1253.0 1117.5L1321.7 1095.3L1398.8 1064.4L1457.4 1038.5L1523.6 1007.3L1590.0 976.1L1649.3 941.2L1702.3 906.9L1756.0 870.7L1805.0 828.0L1856.9 781.4L1896.6 733.7L1936.2 684.7L1967.7 637.0L2002.7 580.8L2032.3 534.0L2047.9 504.4L2069.7 473.2L2082.2 449.8L2101.0 420.0L2121.2 393.6L2146.2 368.6" fill="none" stroke="#050505" stroke-width="2.1" stroke-linejoin="round"/>
<path d="M235.5 1650.0L252.0 1633.5L268.5 1650.0L252.0 1666.5Z" fill="#050505"/>
<path d="M236.9 1644.2L253.4 1627.7L269.9 1644.2L253.4 1660.7Z" fill="#050505"/>
<path d="M238.4 1638.3L254.9 1621.8L271.4 1638.3L254.9 1654.8Z" fill="#050505"/>
<path d="M239.8 1632.5L256.3 1616.0L272.8 1632.5L256.3 1649.0Z" fill="#050505"/>
<path d="M241.2 1626.7L257.7 1610.2L274.2 1626.7L257.7 1643.2Z" fill="#050505"/>
<path d="M242.7 1620.9L259.2 1604.4L275.7 1620.9L259.2 1637.4Z" fill="#050505"/>
<path d="M244.5 1615.1L261.0 1598.6L277.5 1615.1L261.0 1631.6Z" fill="#050505"/>
<path d="M246.2 1609.4L262.7 1592.9L279.2 1609.4L262.7 1625.9Z" fill="#050505"/>
<path d="M248.0 1603.7L264.5 1587.2L281.0 1603.7L264.5 1620.2Z" fill="#050505"/>
<path d="M249.8 1598.0L266.3 1581.5L282.8 1598.0L266.3 1614.5Z" fill="#050505"/>
<path d="M252.0 1592.4L268.5 1575.9L285.0 1592.4L268.5 1608.9Z" fill="#050505"/>
<path d="M254.2 1586.8L270.7 1570.3L287.2 1586.8L270.7 1603.3Z" fill="#050505"/>
<path d="M256.4 1581.2L272.9 1564.7L289.4 1581.2L272.9 1597.7Z" fill="#050505"/>
<path d="M258.7 1575.7L275.2 1559.2L291.7 1575.7L275.2 1592.2Z" fill="#050505"/>
<path d="M261.4 1570.3L277.9 1553.8L294.4 1570.3L277.9 1586.8Z" fill="#050505"/>
<path d="M264.1 1564.9L280.6 1548.4L297.1 1564.9L280.6 1581.4Z" fill="#050505"/>
<path d="M266.8 1559.6L283.3 1543.1L299.8 1559.6L283.3 1576.1Z" fill="#050505"/>
<path d="M269.5 1554.2L286.0 1537.7L302.5 1554.2L286.0 1570.7Z" fill="#050505"/>
<path d="M272.8 1549.2L289.3 1532.7L305.8 1549.2L289.3 1565.7Z" fill="#050505"/>
<path d="M276.2 1544.3L292.7 1527.8L309.2 1544.3L292.7 1560.8Z" fill="#050505"/>
<path d="M279.6 1539.4L296.1 1522.9L312.6 1539.4L296.1 1555.9Z" fill="#050505"/>
<path d="M283.1 1534.5L299.6 1518.0L316.1 1534.5L299.6 1551.0Z" fill="#050505"/>
<path d="M286.7 1529.7L303.2 1513.2L319.7 1529.7L303.2 1546.2Z" fill="#050505"/>
<path d="M291.1 1525.7L307.6 1509.2L324.1 1525.7L307.6 1542.2Z" fill="#050505"/>
<path d="M295.6 1521.7L312.1 1505.2L328.6 1521.7L312.1 1538.2Z" fill="#050505"/>
<path d="M300.1 1517.7L316.6 1501.2L333.1 1517.7L316.6 1534.2Z" fill="#050505"/>
<path d="M304.5 1513.6L321.0 1497.1L337.5 1513.6L321.0 1530.1Z" fill="#050505"/>
<path d="M309.0 1509.6L325.5 1493.1L342.0 1509.6L325.5 1526.1Z" fill="#050505"/>
<path d="M313.3 1505.5L329.8 1489.0L346.3 1505.5L329.8 1522.0Z" fill="#050505"/>
<path d="M317.6 1501.3L334.1 1484.8L350.6 1501.3L334.1 1517.8Z" fill="#050505"/>
<path d="M322.0 1497.2L338.5 1480.7L355.0 1497.2L338.5 1513.7Z" fill="#050505"/>
<path d="M326.3 1493.0L342.8 1476.5L359.3 1493.0L342.8 1509.5Z" fill="#050505"/>
<path d="M330.6 1488.8L347.1 1472.3L363.6 1488.8L347.1 1505.3Z" fill="#050505"/>
<path d="M357.0 1466.5L376.0 1447.5L395.0 1466.5L376.0 1485.5Z" fill="#050505"/>
<path d="M396.0 1440.0L415.0 1421.0L434.0 1440.0L415.0 1459.0Z" fill="#050505"/>
<path d="M435.0 1421.0L454.0 1402.0L473.0 1421.0L454.0 1440.0Z" fill="#050505"/>
<path d="M483.3 1396.0L502.3 1377.0L521.3 1396.0L502.3 1415.0Z" fill="#050505"/>
<path d="M534.8 1369.7L553.8 1350.7L572.8 1369.7L553.8 1388.7Z" fill="#050505"/>
<path d="M588.8 1343.0L607.8 1324.0L626.8 1343.0L607.8 1362.0Z" fill="#050505"/>
<path d="M641.8 1324.3L660.8 1305.3L679.8 1324.3L660.8 1343.3Z" fill="#050505"/>
<path d="M693.3 1304.0L712.3 1285.0L731.3 1304.0L712.3 1323.0Z" fill="#050505"/>
<path d="M747.9 1283.8L766.9 1264.8L785.9 1283.8L766.9 1302.8Z" fill="#050505"/>
<path d="M808.8 1261.9L827.8 1242.9L846.8 1261.9L827.8 1280.9Z" fill="#050505"/>
<path d="M875.8 1240.1L894.8 1221.1L913.8 1240.1L894.8 1259.1Z" fill="#050505"/>
<path d="M949.2 1215.1L968.2 1196.1L987.2 1215.1L968.2 1234.1Z" fill="#050505"/>
<path d="M1024.0 1188.6L1043.0 1169.6L1062.0 1188.6L1043.0 1207.6Z" fill="#050505"/>
<path d="M1095.8 1165.2L1114.8 1146.2L1133.8 1165.2L1114.8 1184.2Z" fill="#050505"/>
<path d="M1167.6 1140.2L1186.6 1121.2L1205.6 1140.2L1186.6 1159.2Z" fill="#050505"/>
<path d="M1234.0 1117.5L1253.0 1098.5L1272.0 1117.5L1253.0 1136.5Z" fill="#050505"/>
<path d="M1302.7 1095.3L1321.7 1076.3L1340.7 1095.3L1321.7 1114.3Z" fill="#050505"/>
<path d="M1379.8 1064.4L1398.8 1045.4L1417.8 1064.4L1398.8 1083.4Z" fill="#050505"/>
<path d="M1438.4 1038.5L1457.4 1019.5L1476.4 1038.5L1457.4 1057.5Z" fill="#050505"/>
<path d="M1504.6 1007.3L1523.6 988.3L1542.6 1007.3L1523.6 1026.3Z" fill="#050505"/>
<path d="M1571.0 976.1L1590.0 957.1L1609.0 976.1L1590.0 995.1Z" fill="#050505"/>
<path d="M1630.3 941.2L1649.3 922.2L1668.3 941.2L1649.3 960.2Z" fill="#050505"/>
<path d="M1683.3 906.9L1702.3 887.9L1721.3 906.9L1702.3 925.9Z" fill="#050505"/>
<path d="M1737.0 870.7L1756.0 851.7L1775.0 870.7L1756.0 889.7Z" fill="#050505"/>
<path d="M1786.0 828.0L1805.0 809.0L1824.0 828.0L1805.0 847.0Z" fill="#050505"/>
<path d="M1837.9 781.4L1856.9 762.4L1875.9 781.4L1856.9 800.4Z" fill="#050505"/>
<path d="M1877.6 733.7L1896.6 714.7L1915.6 733.7L1896.6 752.7Z" fill="#050505"/>
<path d="M1917.2 684.7L1936.2 665.7L1955.2 684.7L1936.2 703.7Z" fill="#050505"/>
<path d="M1948.7 637.0L1967.7 618.0L1986.7 637.0L1967.7 656.0Z" fill="#050505"/>
<path d="M1983.7 580.8L2002.7 561.8L2021.7 580.8L2002.7 599.8Z" fill="#050505"/>
<path d="M2013.3 534.0L2032.3 515.0L2051.3 534.0L2032.3 553.0Z" fill="#050505"/>
<path d="M2028.9 504.4L2047.9 485.4L2066.9 504.4L2047.9 523.4Z" fill="#050505"/>
<path d="M2050.7 473.2L2069.7 454.2L2088.7 473.2L2069.7 492.2Z" fill="#050505"/>
<path d="M2063.2 449.8L2082.2 430.8L2101.2 449.8L2082.2 468.8Z" fill="#050505"/>
<path d="M2082.0 420.0L2101.0 401.0L2120.0 420.0L2101.0 439.0Z" fill="#050505"/>
<path d="M2102.2 393.6L2121.2 374.6L2140.2 393.6L2121.2 412.6Z" fill="#050505"/>
<path d="M2127.2 368.6L2146.2 349.6L2165.2 368.6L2146.2 387.6Z" fill="#050505"/>
<path d="M2154.0 350.0L2100.3 370.2L2056.6 407.6L2016.0 446.6L1980.8 486.6L1942.7 524.0L1909.7 565.2L1878.8 608.9L1847.3 652.0L1816.4 693.8L1782.0 737.0L1750.4 777.0L1715.2 817.0L1676.8 855.4L1635.9 891.3L1592.2 927.1L1546.3 960.5L1508.3 988.6L1463.7 1012.0L1417.5 1035.4L1372.5 1059.8L1324.8 1079.0L1274.0 1099.4L1225.0 1121.2L1177.2 1148.0L1130.4 1159.0L1084.5 1178.6L1033.7 1201.1L922.9 1227.6L863.7 1251.0L809.7 1277.5L755.1 1296.9L701.4 1318.1L649.0 1339.3L596.0 1359.5" fill="none" stroke="#FF0000" stroke-width="1.9" stroke-linejoin="round"/>
<path d="M2135.0 350.0L2154.0 331.0L2173.0 350.0L2154.0 369.0Z" fill="#FF0000"/>
<path d="M2081.3 370.2L2100.3 351.2L2119.3 370.2L2100.3 389.2Z" fill="#FF0000"/>
<path d="M2037.6 407.6L2056.6 388.6L2075.6 407.6L2056.6 426.6Z" fill="#FF0000"/>
<path d="M1997.0 446.6L2016.0 427.6L2035.0 446.6L2016.0 465.6Z" fill="#FF0000"/>
<path d="M1961.8 486.6L1980.8 467.6L1999.8 486.6L1980.8 505.6Z" fill="#FF0000"/>
<path d="M1923.7 524.0L1942.7 505.0L1961.7 524.0L1942.7 543.0Z" fill="#FF0000"/>
<path d="M1890.7 565.2L1909.7 546.2L1928.7 565.2L1909.7 584.2Z" fill="#FF0000"/>
<path d="M1859.8 608.9L1878.8 589.9L1897.8 608.9L1878.8 627.9Z" fill="#FF0000"/>
<path d="M1828.3 652.0L1847.3 633.0L1866.3 652.0L1847.3 671.0Z" fill="#FF0000"/>
<path d="M1797.4 693.8L1816.4 674.8L1835.4 693.8L1816.4 712.8Z" fill="#FF0000"/>
<path d="M1763.0 737.0L1782.0 718.0L1801.0 737.0L1782.0 756.0Z" fill="#FF0000"/>
<path d="M1731.4 777.0L1750.4 758.0L1769.4 777.0L1750.4 796.0Z" fill="#FF0000"/>
<path d="M1696.2 817.0L1715.2 798.0L1734.2 817.0L1715.2 836.0Z" fill="#FF0000"/>
<path d="M1657.8 855.4L1676.8 836.4L1695.8 855.4L1676.8 874.4Z" fill="#FF0000"/>
<path d="M1616.9 891.3L1635.9 872.3L1654.9 891.3L1635.9 910.3Z" fill="#FF0000"/>
<path d="M1573.2 927.1L1592.2 908.1L1611.2 927.1L1592.2 946.1Z" fill="#FF0000"/>
<path d="M1527.3 960.5L1546.3 941.5L1565.3 960.5L1546.3 979.5Z" fill="#FF0000"/>
<path d="M1489.3 988.6L1508.3 969.6L1527.3 988.6L1508.3 1007.6Z" fill="#FF0000"/>
<path d="M1444.7 1012.0L1463.7 993.0L1482.7 1012.0L1463.7 1031.0Z" fill="#FF0000"/>
<path d="M1398.5 1035.4L1417.5 1016.4L1436.5 1035.4L1417.5 1054.4Z" fill="#FF0000"/>
<path d="M1353.5 1059.8L1372.5 1040.8L1391.5 1059.8L1372.5 1078.8Z" fill="#FF0000"/>
<path d="M1305.8 1079.0L1324.8 1060.0L1343.8 1079.0L1324.8 1098.0Z" fill="#FF0000"/>
<path d="M1255.0 1099.4L1274.0 1080.4L1293.0 1099.4L1274.0 1118.4Z" fill="#FF0000"/>
<path d="M1206.0 1121.2L1225.0 1102.2L1244.0 1121.2L1225.0 1140.2Z" fill="#FF0000"/>
<path d="M1158.2 1148.0L1177.2 1129.0L1196.2 1148.0L1177.2 1167.0Z" fill="#FF0000"/>
<path d="M1111.4 1159.0L1130.4 1140.0L1149.4 1159.0L1130.4 1178.0Z" fill="#FF0000"/>
<path d="M1065.5 1178.6L1084.5 1159.6L1103.5 1178.6L1084.5 1197.6Z" fill="#FF0000"/>
<path d="M1014.7 1201.1L1033.7 1182.1L1052.7 1201.1L1033.7 1220.1Z" fill="#FF0000"/>
<path d="M903.9 1227.6L922.9 1208.6L941.9 1227.6L922.9 1246.6Z" fill="#FF0000"/>
<path d="M844.7 1251.0L863.7 1232.0L882.7 1251.0L863.7 1270.0Z" fill="#FF0000"/>
<path d="M790.7 1277.5L809.7 1258.5L828.7 1277.5L809.7 1296.5Z" fill="#FF0000"/>
<path d="M736.1 1296.9L755.1 1277.9L774.1 1296.9L755.1 1315.9Z" fill="#FF0000"/>
<path d="M682.4 1318.1L701.4 1299.1L720.4 1318.1L701.4 1337.1Z" fill="#FF0000"/>
<path d="M630.0 1339.3L649.0 1320.3L668.0 1339.3L649.0 1358.3Z" fill="#FF0000"/>
<path d="M577.0 1359.5L596.0 1340.5L615.0 1359.5L596.0 1378.5Z" fill="#FF0000"/>
</g>
<g stroke="#2b2b2b" stroke-width="3.1" fill="none" stroke-linecap="butt">
<path d="M242.0 1966.3V39.5H2166.5V1966.3"/>
<path d="M223.0 1964.5H2166.5"/>
<path d="M223.5 1964.5H242.0"/>
<path d="M232.0 1868.2H242.0"/>
<path d="M223.5 1772.0H242.0"/>
<path d="M232.0 1675.8H242.0"/>
<path d="M223.5 1579.5H242.0"/>
<path d="M232.0 1483.2H242.0"/>
<path d="M223.5 1387.0H242.0"/>
<path d="M232.0 1290.8H242.0"/>
<path d="M223.5 1194.5H242.0"/>
<path d="M232.0 1098.2H242.0"/>
<path d="M223.5 1002.0H242.0"/>
<path d="M232.0 905.8H242.0"/>
<path d="M223.5 809.5H242.0"/>
<path d="M232.0 713.2H242.0"/>
<path d="M223.5 617.0H242.0"/>
<path d="M232.0 520.8H242.0"/>
<path d="M223.5 424.5H242.0"/>
<path d="M232.0 328.2H242.0"/>
<path d="M223.5 232.0H242.0"/>
<path d="M232.0 135.8H242.0"/>
<path d="M223.5 39.5H242.0"/>
<path d="M242.0 1964.5V1983.5"/>
<path d="M338.2 1964.5V1974.5"/>
<path d="M434.4 1964.5V1983.5"/>
<path d="M530.7 1964.5V1974.5"/>
<path d="M626.9 1964.5V1983.5"/>
<path d="M723.1 1964.5V1974.5"/>
<path d="M819.4 1964.5V1983.5"/>
<path d="M915.6 1964.5V1974.5"/>
<path d="M1011.8 1964.5V1983.5"/>
<path d="M1108.0 1964.5V1974.5"/>
<path d="M1204.2 1964.5V1983.5"/>
<path d="M1300.5 1964.5V1974.5"/>
<path d="M1396.7 1964.5V1983.5"/>
<path d="M1492.9 1964.5V1974.5"/>
<path d="M1589.2 1964.5V1983.5"/>
<path d="M1685.4 1964.5V1974.5"/>
<path d="M1781.6 1964.5V1983.5"/>
<path d="M1877.8 1964.5V1974.5"/>
<path d="M1974.0 1964.5V1983.5"/>
<path d="M2070.3 1964.5V1974.5"/>
<path d="M2166.5 1964.5V1983.5"/>
<path d="M2148.5 1902.5H2184.5"/>
<path d="M2157.0 1747.2H2176.0"/>
<path d="M2148.5 1592.0H2184.5"/>
<path d="M2157.0 1436.7H2176.0"/>
<path d="M2148.5 1281.5H2184.5"/>
<path d="M2157.0 1126.2H2176.0"/>
<path d="M2148.5 971.0H2184.5"/>
<path d="M2157.0 815.7H2176.0"/>
<path d="M2148.5 660.5H2184.5"/>
<path d="M2157.0 505.2H2176.0"/>
<path d="M2148.5 350.0H2184.5"/>
<path d="M2157.0 194.7H2176.0"/>
<path d="M2148.5 39.5H2184.5"/>
<path d="M240.2 2232.8H2168.3"/>
<path d="M242.0 2232.8V2242.8"/>
<path d="M311.1 2232.8V2242.8"/>
<path d="M367.6 2232.8V2242.8"/>
<path d="M415.3 2232.8V2242.8"/>
<path d="M456.6 2232.8V2242.8"/>
<path d="M493.1 2232.8V2242.8"/>
<path d="M525.8 2232.8V2250.8"/>
<path d="M740.4 2232.8V2242.8"/>
<path d="M866.0 2232.8V2242.8"/>
<path d="M955.0 2232.8V2242.8"/>
<path d="M1024.2 2232.8V2242.8"/>
<path d="M1080.6 2232.8V2242.8"/>
<path d="M1128.3 2232.8V2242.8"/>
<path d="M1169.7 2232.8V2242.8"/>
<path d="M1206.2 2232.8V2242.8"/>
<path d="M1238.8 2232.8V2250.8"/>
<path d="M1453.5 2232.8V2242.8"/>
<path d="M1579.0 2232.8V2242.8"/>
<path d="M1668.1 2232.8V2242.8"/>
<path d="M1737.2 2232.8V2242.8"/>
<path d="M1793.7 2232.8V2242.8"/>
<path d="M1841.4 2232.8V2242.8"/>
<path d="M1882.7 2232.8V2242.8"/>
<path d="M1919.2 2232.8V2242.8"/>
<path d="M1951.9 2232.8V2250.8"/>
<path d="M2166.5 2232.8V2242.8"/>
</g>
<text x="203.0" y="1979.5" font-family="'Liberation Sans', sans-serif" font-size="51" font-weight="normal" font-style="normal" text-anchor="end" fill="#1c1c1c" textLength="28.4" lengthAdjust="spacingAndGlyphs" stroke="#fff" stroke-width="0.8">0</text>
<text x="203.0" y="1787.0" font-family="'Liberation Sans', sans-serif" font-size="51" font-weight="normal" font-style="normal" text-anchor="end" fill="#1c1c1c" textLength="80.7" lengthAdjust="spacingAndGlyphs" stroke="#fff" stroke-width="0.8">100</text>
<text x="203.0" y="1594.5" font-family="'Liberation Sans', sans-serif" font-size="51" font-weight="normal" font-style="normal" text-anchor="end" fill="#1c1c1c" textLength="85.1" lengthAdjust="spacingAndGlyphs" stroke="#fff" stroke-width="0.8">200</text>
<text x="203.0" y="1402.0" font-family="'Liberation Sans', sans-serif" font-size="51" font-weight="normal" font-style="normal" text-anchor="end" fill="#1c1c1c" textLength="85.1" lengthAdjust="spacingAndGlyphs" stroke="#fff" stroke-width="0.8">300</text>
<text x="203.0" y="1209.5" font-family="'Liberation Sans', sans-serif" font-size="51" font-weight="normal" font-style="normal" text-anchor="end" fill="#1c1c1c" textLength="85.1" lengthAdjust="spacingAndGlyphs" stroke="#fff" stroke-width="0.8">400</text>
<text x="203.0" y="1017.0" font-family="'Liberation Sans', sans-serif" font-size="51" font-weight="normal" font-style="normal" text-anchor="end" fill="#1c1c1c" textLength="85.1" lengthAdjust="spacingAndGlyphs" stroke="#fff" stroke-width="0.8">500</text>
<text x="203.0" y="824.5" font-family="'Liberation Sans', sans-serif" font-size="51" font-weight="normal" font-style="normal" text-anchor="end" fill="#1c1c1c" textLength="85.1" lengthAdjust="spacingAndGlyphs" stroke="#fff" stroke-width="0.8">600</text>
<text x="203.0" y="632.0" font-family="'Liberation Sans', sans-serif" font-size="51" font-weight="normal" font-style="normal" text-anchor="end" fill="#1c1c1c" textLength="85.1" lengthAdjust="spacingAndGlyphs" stroke="#fff" stroke-width="0.8">700</text>
<text x="203.0" y="439.5" font-family="'Liberation Sans', sans-serif" font-size="51" font-weight="normal" font-style="normal" text-anchor="end" fill="#1c1c1c" textLength="85.1" lengthAdjust="spacingAndGlyphs" stroke="#fff" stroke-width="0.8">800</text>
<text x="203.0" y="247.0" font-family="'Liberation Sans', sans-serif" font-size="51" font-weight="normal" font-style="normal" text-anchor="end" fill="#1c1c1c" textLength="85.1" lengthAdjust="spacingAndGlyphs" stroke="#fff" stroke-width="0.8">900</text>
<text x="203.0" y="54.5" font-family="'Liberation Sans', sans-serif" font-size="51" font-weight="normal" font-style="normal" text-anchor="end" fill="#1c1c1c" textLength="109.0" lengthAdjust="spacingAndGlyphs" stroke="#fff" stroke-width="0.8">1000</text>
<text x="242.0" y="2055.0" font-family="'Liberation Sans', sans-serif" font-size="51" font-weight="normal" font-style="normal" text-anchor="middle" fill="#1c1c1c" textLength="65.9" lengthAdjust="spacingAndGlyphs" stroke="#fff" stroke-width="0.8">0.0</text>
<text x="434.4" y="2055.0" font-family="'Liberation Sans', sans-serif" font-size="51" font-weight="normal" font-style="normal" text-anchor="middle" fill="#1c1c1c" textLength="61.5" lengthAdjust="spacingAndGlyphs" stroke="#fff" stroke-width="0.8">0.1</text>
<text x="626.9" y="2055.0" font-family="'Liberation Sans', sans-serif" font-size="51" font-weight="normal" font-style="normal" text-anchor="middle" fill="#1c1c1c" textLength="65.9" lengthAdjust="spacingAndGlyphs" stroke="#fff" stroke-width="0.8">0.2</text>
<text x="819.4" y="2055.0" font-family="'Liberation Sans', sans-serif" font-size="51" font-weight="normal" font-style="normal" text-anchor="middle" fill="#1c1c1c" textLength="65.9" lengthAdjust="spacingAndGlyphs" stroke="#fff" stroke-width="0.8">0.3</text>
<text x="1011.8" y="2055.0" font-family="'Liberation Sans', sans-serif" font-size="51" font-weight="normal" font-style="normal" text-anchor="middle" fill="#1c1c1c" textLength="65.9" lengthAdjust="spacingAndGlyphs" stroke="#fff" stroke-width="0.8">0.4</text>
<text x="1204.2" y="2055.0" font-family="'Liberation Sans', sans-serif" font-size="51" font-weight="normal" font-style="normal" text-anchor="middle" fill="#1c1c1c" textLength="65.9" lengthAdjust="spacingAndGlyphs" stroke="#fff" stroke-width="0.8">0.5</text>
<text x="1396.7" y="2055.0" font-family="'Liberation Sans', sans-serif" font-size="51" font-weight="normal" font-style="normal" text-anchor="middle" fill="#1c1c1c" textLength="65.9" lengthAdjust="spacingAndGlyphs" stroke="#fff" stroke-width="0.8">0.6</text>
<text x="1589.2" y="2055.0" font-family="'Liberation Sans', sans-serif" font-size="51" font-weight="normal" font-style="normal" text-anchor="middle" fill="#1c1c1c" textLength="65.9" lengthAdjust="spacingAndGlyphs" stroke="#fff" stroke-width="0.8">0.7</text>
<text x="1781.6" y="2055.0" font-family="'Liberation Sans', sans-serif" font-size="51" font-weight="normal" font-style="normal" text-anchor="middle" fill="#1c1c1c" textLength="65.9" lengthAdjust="spacingAndGlyphs" stroke="#fff" stroke-width="0.8">0.8</text>
<text x="1974.0" y="2055.0" font-family="'Liberation Sans', sans-serif" font-size="51" font-weight="normal" font-style="normal" text-anchor="middle" fill="#1c1c1c" textLength="65.9" lengthAdjust="spacingAndGlyphs" stroke="#fff" stroke-width="0.8">0.9</text>
<text x="2166.5" y="2055.0" font-family="'Liberation Sans', sans-serif" font-size="51" font-weight="normal" font-style="normal" text-anchor="middle" fill="#1c1c1c" textLength="61.5" lengthAdjust="spacingAndGlyphs" stroke="#fff" stroke-width="0.8">1.0</text>
<text x="2205.5" y="1918.1" font-family="'Liberation Sans', sans-serif" font-size="47.5" font-weight="normal" font-style="normal" text-anchor="start" fill="#1c1c1c" textLength="61.4" lengthAdjust="spacingAndGlyphs" stroke="#fff" stroke-width="0.8">0.0</text>
<text x="2205.5" y="1607.6" font-family="'Liberation Sans', sans-serif" font-size="47.5" font-weight="normal" font-style="normal" text-anchor="start" fill="#1c1c1c" textLength="57.3" lengthAdjust="spacingAndGlyphs" stroke="#fff" stroke-width="0.8">0.1</text>
<text x="2205.5" y="1297.1" font-family="'Liberation Sans', sans-serif" font-size="47.5" font-weight="normal" font-style="normal" text-anchor="start" fill="#1c1c1c" textLength="61.4" lengthAdjust="spacingAndGlyphs" stroke="#fff" stroke-width="0.8">0.2</text>
<text x="2205.5" y="986.6" font-family="'Liberation Sans', sans-serif" font-size="47.5" font-weight="normal" font-style="normal" text-anchor="start" fill="#1c1c1c" textLength="61.4" lengthAdjust="spacingAndGlyphs" stroke="#fff" stroke-width="0.8">0.3</text>
<text x="2205.5" y="676.1" font-family="'Liberation Sans', sans-serif" font-size="47.5" font-weight="normal" font-style="normal" text-anchor="start" fill="#1c1c1c" textLength="61.4" lengthAdjust="spacingAndGlyphs" stroke="#fff" stroke-width="0.8">0.4</text>
<text x="2205.5" y="365.6" font-family="'Liberation Sans', sans-serif" font-size="47.5" font-weight="normal" font-style="normal" text-anchor="start" fill="#1c1c1c" textLength="61.4" lengthAdjust="spacingAndGlyphs" stroke="#fff" stroke-width="0.8">0.5</text>
<text x="2205.5" y="55.1" font-family="'Liberation Sans', sans-serif" font-size="47.5" font-weight="normal" font-style="normal" text-anchor="start" fill="#1c1c1c" textLength="61.4" lengthAdjust="spacingAndGlyphs" stroke="#fff" stroke-width="0.8">0.6</text>
<text x="242.0" y="2308.6" font-family="'Liberation Sans', sans-serif" font-size="47.5" font-weight="normal" font-style="normal" text-anchor="middle" fill="#1c1c1c" textLength="61.4" lengthAdjust="spacingAndGlyphs" stroke="#fff" stroke-width="0.8">0.4</text>
<text x="367.6" y="2308.6" font-family="'Liberation Sans', sans-serif" font-size="47.5" font-weight="normal" font-style="normal" text-anchor="middle" fill="#1c1c1c" textLength="61.4" lengthAdjust="spacingAndGlyphs" stroke="#fff" stroke-width="0.8">0.6</text>
<text x="456.6" y="2308.6" font-family="'Liberation Sans', sans-serif" font-size="47.5" font-weight="normal" font-style="normal" text-anchor="middle" fill="#1c1c1c" textLength="61.4" lengthAdjust="spacingAndGlyphs" stroke="#fff" stroke-width="0.8">0.8</text>
<text x="525.8" y="2308.6" font-family="'Liberation Sans', sans-serif" font-size="47.5" font-weight="normal" font-style="normal" text-anchor="middle" fill="#1c1c1c" textLength="22.3" lengthAdjust="spacingAndGlyphs" stroke="#fff" stroke-width="0.8">1</text>
<text x="740.4" y="2308.6" font-family="'Liberation Sans', sans-serif" font-size="47.5" font-weight="normal" font-style="normal" text-anchor="middle" fill="#1c1c1c" textLength="26.4" lengthAdjust="spacingAndGlyphs" stroke="#fff" stroke-width="0.8">2</text>
<text x="866.0" y="2308.6" font-family="'Liberation Sans', sans-serif" font-size="47.5" font-weight="normal" font-style="normal" text-anchor="middle" fill="#1c1c1c" textLength="26.4" lengthAdjust="spacingAndGlyphs" stroke="#fff" stroke-width="0.8">3</text>
<text x="955.0" y="2308.6" font-family="'Liberation Sans', sans-serif" font-size="47.5" font-weight="normal" font-style="normal" text-anchor="middle" fill="#1c1c1c" textLength="26.4" lengthAdjust="spacingAndGlyphs" stroke="#fff" stroke-width="0.8">4</text>
<text x="1024.2" y="2308.6" font-family="'Liberation Sans', sans-serif" font-size="47.5" font-weight="normal" font-style="normal" text-anchor="middle" fill="#1c1c1c" textLength="26.4" lengthAdjust="spacingAndGlyphs" stroke="#fff" stroke-width="0.8">5</text>
<text x="1080.6" y="2308.6" font-family="'Liberation Sans', sans-serif" font-size="47.5" font-weight="normal" font-style="normal" text-anchor="middle" fill="#1c1c1c" textLength="26.4" lengthAdjust="spacingAndGlyphs" stroke="#fff" stroke-width="0.8">6</text>
<text x="1169.7" y="2308.6" font-family="'Liberation Sans', sans-serif" font-size="47.5" font-weight="normal" font-style="normal" text-anchor="middle" fill="#1c1c1c" textLength="26.4" lengthAdjust="spacingAndGlyphs" stroke="#fff" stroke-width="0.8">8</text>
<text x="1238.8" y="2308.6" font-family="'Liberation Sans', sans-serif" font-size="47.5" font-weight="normal" font-style="normal" text-anchor="middle" fill="#1c1c1c" textLength="48.7" lengthAdjust="spacingAndGlyphs" stroke="#fff" stroke-width="0.8">10</text>
<text x="1453.5" y="2308.6" font-family="'Liberation Sans', sans-serif" font-size="47.5" font-weight="normal" font-style="normal" text-anchor="middle" fill="#1c1c1c" textLength="52.8" lengthAdjust="spacingAndGlyphs" stroke="#fff" stroke-width="0.8">20</text>
<text x="1579.0" y="2308.6" font-family="'Liberation Sans', sans-serif" font-size="47.5" font-weight="normal" font-style="normal" text-anchor="middle" fill="#1c1c1c" textLength="52.8" lengthAdjust="spacingAndGlyphs" stroke="#fff" stroke-width="0.8">30</text>
<text x="1668.1" y="2308.6" font-family="'Liberation Sans', sans-serif" font-size="47.5" font-weight="normal" font-style="normal" text-anchor="middle" fill="#1c1c1c" textLength="52.8" lengthAdjust="spacingAndGlyphs" stroke="#fff" stroke-width="0.8">40</text>
<text x="1793.7" y="2308.6" font-family="'Liberation Sans', sans-serif" font-size="47.5" font-weight="normal" font-style="normal" text-anchor="middle" fill="#1c1c1c" textLength="52.8" lengthAdjust="spacingAndGlyphs" stroke="#fff" stroke-width="0.8">60</text>
<text x="1951.9" y="2308.6" font-family="'Liberation Sans', sans-serif" font-size="47.5" font-weight="normal" font-style="normal" text-anchor="middle" fill="#1c1c1c" textLength="75.1" lengthAdjust="spacingAndGlyphs" stroke="#fff" stroke-width="0.8">100</text>
<text x="2166.5" y="2308.6" font-family="'Liberation Sans', sans-serif" font-size="47.5" font-weight="normal" font-style="normal" text-anchor="middle" fill="#1c1c1c" textLength="79.2" lengthAdjust="spacingAndGlyphs" stroke="#fff" stroke-width="0.8">200</text>
<text transform="translate(68 1389) rotate(-90)" font-family="'Liberation Sans', sans-serif" font-size="53" font-weight="bold" fill="#111" textLength="768" lengthAdjust="spacingAndGlyphs">Quantity Adsorbed (cm<tspan font-size="34" dy="-20">3</tspan><tspan dy="20">/g STP)</tspan></text>
<text transform="translate(2354 1211) rotate(-90)" font-family="'Liberation Sans', sans-serif" font-size="46" font-weight="bold" fill="#111" textLength="415" lengthAdjust="spacingAndGlyphs">dV/dD (cm<tspan font-size="30" dy="-17">3</tspan><tspan dy="17">/g · nm)</tspan></text>
<text x="945" y="2141" font-family="'Liberation Sans', sans-serif" font-size="49" font-weight="bold" fill="#111" xml:space="preserve" textLength="520" lengthAdjust="spacingAndGlyphs">Relative presure  P/P<tspan font-size="33" dy="14">0</tspan></text>
<text x="1106" y="2373.5" font-family="'Liberation Sans', sans-serif" font-size="45" font-weight="bold" fill="#111" textLength="178" lengthAdjust="spacingAndGlyphs">DD (nm)</text>
<rect x="1603" y="1203.7" width="104.5" height="50.5" fill="#F2DA9A" stroke="#6a5a4a" stroke-width="1.8"/>
<path d="M1749.5 1226.1H1861" stroke="#050505" stroke-width="2.6" fill="none"/>
<path d="M1788.4 1236.6L1805.6 1207.1L1822.8 1236.6Z" fill="#050505"/>
<text x="1895.5" y="1243.6" font-family="'Liberation Sans', sans-serif" font-size="47" font-weight="normal" font-style="italic" text-anchor="start" fill="#1c1c1c" textLength="158" lengthAdjust="spacingAndGlyphs" stroke="#fff" stroke-width="0.8">PPC-150</text>
<rect x="1603" y="1264" width="104.5" height="50.5" fill="#F4A86C" stroke="#6a5a4a" stroke-width="1.8"/>
<path d="M1749.5 1286.2H1861" stroke="#050505" stroke-width="2.6" fill="none"/>
<circle cx="1805.6" cy="1286.2" r="14" fill="#fff" stroke="#050505" stroke-width="2.5"/><path d="M1791.6 1286.2A14 14 0 0 1 1819.6 1286.2Z" fill="#050505" stroke="#050505" stroke-width="2.5"/>
<text x="1895.5" y="1303.8" font-family="'Liberation Sans', sans-serif" font-size="47" font-weight="normal" font-style="italic" text-anchor="start" fill="#1c1c1c" textLength="169" lengthAdjust="spacingAndGlyphs" stroke="#fff" stroke-width="0.8">PPC-200</text>
<rect x="1603" y="1323" width="104.5" height="50.5" fill="#FF8503" stroke="#6a5a4a" stroke-width="1.8"/>
<path d="M1749.5 1346.4H1861" stroke="#050505" stroke-width="2.6" fill="none"/>
<circle cx="1805.6" cy="1346.4" r="14.7" fill="#050505"/>
<text x="1895.5" y="1363.9" font-family="'Liberation Sans', sans-serif" font-size="47" font-weight="normal" font-style="italic" text-anchor="start" fill="#1c1c1c" textLength="166" lengthAdjust="spacingAndGlyphs" stroke="#fff" stroke-width="0.8">PPC-250</text>
<rect x="1603" y="1382.5" width="104.5" height="50.5" fill="#B8570B" stroke="#6a5a4a" stroke-width="1.8"/>
<path d="M1749.5 1406.5H1861" stroke="#050505" stroke-width="2.6" fill="none"/>
<rect x="1792.9" y="1393.8" width="25.4" height="25.4" fill="#fff" stroke="#050505" stroke-width="2.5"/><rect x="1791.6" y="1406.5" width="27.9" height="13.95" fill="#050505"/>
<text x="1895.5" y="1424.0" font-family="'Liberation Sans', sans-serif" font-size="47" font-weight="normal" font-style="italic" text-anchor="start" fill="#1c1c1c" textLength="168" lengthAdjust="spacingAndGlyphs" stroke="#fff" stroke-width="0.8">PPC-300</text>
<rect x="1603" y="1442" width="104.5" height="50.5" fill="#8B0303" stroke="#6a5a4a" stroke-width="1.8"/>
<path d="M1749.5 1466.7H1861" stroke="#050505" stroke-width="2.6" fill="none"/>
<path d="M1786.6 1466.7L1805.6 1447.7L1824.6 1466.7L1805.6 1485.7Z" fill="#050505"/>
<text x="1895.5" y="1484.2" font-family="'Liberation Sans', sans-serif" font-size="47" font-weight="normal" font-style="italic" text-anchor="start" fill="#1c1c1c" textLength="165" lengthAdjust="spacingAndGlyphs" stroke="#fff" stroke-width="0.8">PPC-350</text>
</svg>
</body></html>
